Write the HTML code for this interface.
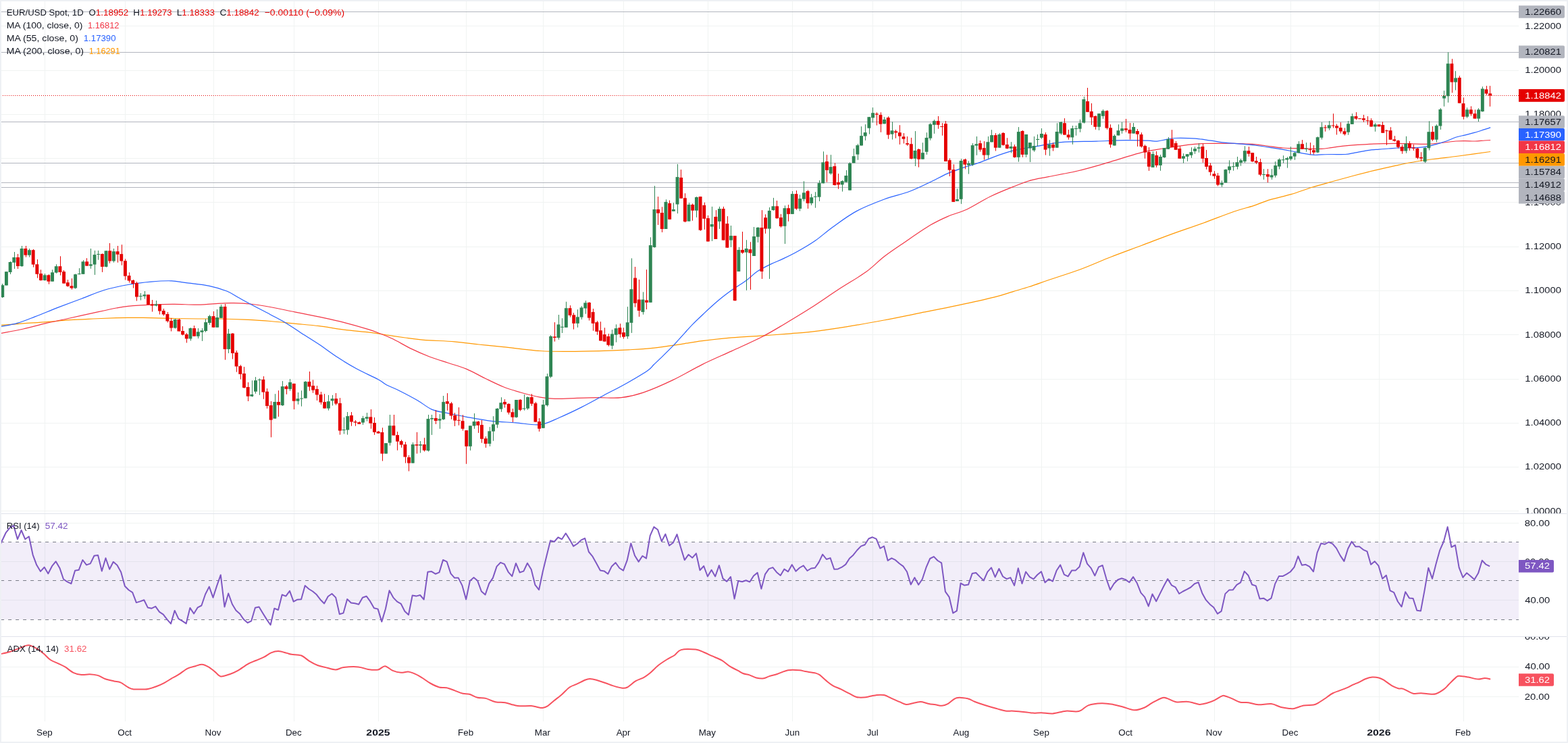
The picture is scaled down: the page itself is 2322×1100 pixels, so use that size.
<!DOCTYPE html>
<html><head><meta charset="utf-8"><title>EUR/USD Spot, 1D</title>
<style>html,body{margin:0;padding:0;background:#fff;}body{width:2322px;height:1100px;overflow:hidden;}svg{display:block;}</style>
</head><body>
<svg width="2322" height="1100" viewBox="0 0 2322 1100">
<defs><clipPath id="cm"><rect x="2" y="2" width="2247" height="758"/></clipPath><clipPath id="cr"><rect x="2" y="761" width="2247" height="181"/></clipPath><clipPath id="ca"><rect x="2" y="943" width="2247" height="125"/></clipPath><clipPath id="axm"><rect x="2249" y="2" width="71" height="758"/></clipPath><clipPath id="axr"><rect x="2249" y="761" width="71" height="181"/></clipPath><clipPath id="axa"><rect x="2249" y="943" width="71" height="125"/></clipPath></defs>
<rect x="0" y="0" width="2322" height="1100" fill="#eef0f4"/>
<rect x="2" y="2" width="2318" height="1096" fill="#ffffff"/>
<g stroke="#f0f3f2" stroke-width="1"><line x1="2" x2="2249" y1="38.5" y2="38.5"/><line x1="2" x2="2249" y1="104.5" y2="104.5"/><line x1="2" x2="2249" y1="169.5" y2="169.5"/><line x1="2" x2="2249" y1="234.5" y2="234.5"/><line x1="2" x2="2249" y1="299.5" y2="299.5"/><line x1="2" x2="2249" y1="365.5" y2="365.5"/><line x1="2" x2="2249" y1="430.5" y2="430.5"/><line x1="2" x2="2249" y1="495.5" y2="495.5"/><line x1="2" x2="2249" y1="561.5" y2="561.5"/><line x1="2" x2="2249" y1="626.5" y2="626.5"/><line x1="2" x2="2249" y1="691.5" y2="691.5"/><line x1="2" x2="2249" y1="756.5" y2="756.5"/><line x1="2" x2="2249" y1="774.5" y2="774.5"/><line x1="2" x2="2249" y1="831.5" y2="831.5"/><line x1="2" x2="2249" y1="888.5" y2="888.5"/><line x1="2" x2="2249" y1="987.5" y2="987.5"/><line x1="2" x2="2249" y1="1031.5" y2="1031.5"/><line x1="66.5" x2="66.5" y1="2" y2="1068"/><line x1="185.5" x2="185.5" y1="2" y2="1068"/><line x1="316.5" x2="316.5" y1="2" y2="1068"/><line x1="435.5" x2="435.5" y1="2" y2="1068"/><line x1="560.5" x2="560.5" y1="2" y2="1068"/><line x1="690.5" x2="690.5" y1="2" y2="1068"/><line x1="804.5" x2="804.5" y1="2" y2="1068"/><line x1="923.5" x2="923.5" y1="2" y2="1068"/><line x1="1048.5" x2="1048.5" y1="2" y2="1068"/><line x1="1173.5" x2="1173.5" y1="2" y2="1068"/><line x1="1292.5" x2="1292.5" y1="2" y2="1068"/><line x1="1423.5" x2="1423.5" y1="2" y2="1068"/><line x1="1542.5" x2="1542.5" y1="2" y2="1068"/><line x1="1667.5" x2="1667.5" y1="2" y2="1068"/><line x1="1798.5" x2="1798.5" y1="2" y2="1068"/><line x1="1911.5" x2="1911.5" y1="2" y2="1068"/><line x1="2042.5" x2="2042.5" y1="2" y2="1068"/><line x1="2167.5" x2="2167.5" y1="2" y2="1068"/></g>
<g stroke="#e0e3eb" stroke-width="1.2"><line x1="2" x2="2320" y1="760.5" y2="760.5"/><line x1="2" x2="2320" y1="942.5" y2="942.5"/></g>
<g clip-path="url(#cm)">
<line x1="2" x2="2249" y1="17.5" y2="17.5" stroke="#b2b5be" stroke-width="1"/>
<line x1="2" x2="2249" y1="77.5" y2="77.5" stroke="#b2b5be" stroke-width="1"/>
<line x1="2" x2="2249" y1="180.5" y2="180.5" stroke="#b2b5be" stroke-width="1"/>
<line x1="2" x2="2249" y1="241.5" y2="241.5" stroke="#b2b5be" stroke-width="1"/>
<line x1="2" x2="2249" y1="270.5" y2="270.5" stroke="#b2b5be" stroke-width="1"/>
<line x1="2" x2="2249" y1="277.5" y2="277.5" stroke="#b2b5be" stroke-width="1"/>
<line x1="2" x2="2249" y1="141.5" y2="141.5" stroke="#e50000" stroke-width="1" stroke-dasharray="1,2" stroke-dashoffset="1"/>
<path d="M1.7,481.5 C7.2,481.1 23.3,479.7 34.5,478.9 C45.7,478.1 57.4,477.6 68.9,476.7 C80.4,475.8 91.9,474.5 103.4,473.7 C114.9,472.9 126.3,472.5 137.8,472.0 C149.3,471.5 163.7,470.9 172.3,470.6 C180.9,470.3 180.9,470.3 189.5,470.3 C198.1,470.3 212.5,470.4 224.0,470.6 C235.5,470.8 246.9,471.3 258.4,471.5 C269.9,471.7 281.4,471.9 292.9,472.0 C304.4,472.1 315.8,471.8 327.3,472.0 C338.8,472.2 349.7,472.6 361.8,473.2 C373.9,473.8 387.6,474.5 400.0,475.5 C412.4,476.5 424.3,477.9 436.4,479.1 C448.5,480.3 460.6,481.2 472.7,482.7 C484.8,484.2 497.0,486.7 509.1,488.2 C521.2,489.7 536.4,490.8 545.5,491.8 C554.6,492.9 554.5,493.1 563.6,494.5 C572.7,495.9 589.4,498.5 600.0,500.0 C610.6,501.5 615.2,502.3 627.3,503.3 C639.4,504.3 659.1,504.7 672.7,505.8 C686.3,506.9 697.0,508.7 709.1,510.0 C721.2,511.3 730.4,512.0 745.5,513.6 C760.6,515.2 783.6,518.4 800.0,519.5 C816.4,520.6 829.1,520.4 843.6,520.4 C858.1,520.4 872.8,520.0 887.3,519.6 C901.8,519.2 918.2,518.5 930.9,517.8 C943.6,517.1 952.7,516.7 963.6,515.6 C974.5,514.5 983.7,513.1 996.4,511.3 C1009.1,509.5 1025.5,506.6 1040.0,504.7 C1054.5,502.8 1069.2,501.2 1083.7,499.9 C1098.2,498.6 1112.8,498.1 1127.3,497.1 C1141.8,496.1 1158.8,494.8 1170.9,493.8 C1183.0,492.9 1186.1,493.1 1200.0,491.4 C1213.9,489.7 1236.3,486.5 1254.5,483.6 C1272.7,480.7 1290.9,477.4 1309.1,474.0 C1327.3,470.6 1345.4,466.7 1363.6,463.1 C1381.8,459.5 1399.9,456.1 1418.1,452.2 C1436.3,448.3 1459.1,443.3 1472.7,439.9 C1486.3,436.5 1490.8,434.5 1499.9,431.8 C1509.0,429.1 1518.1,426.6 1527.2,423.6 C1536.3,420.6 1542.4,418.1 1554.5,414.0 C1566.6,409.9 1584.8,404.3 1600.0,398.7 C1615.2,393.1 1630.3,386.1 1645.5,380.2 C1660.7,374.3 1675.8,368.9 1690.9,363.2 C1706.1,357.5 1721.2,351.6 1736.4,346.1 C1751.6,340.6 1766.7,335.7 1781.8,330.2 C1796.9,324.7 1814.9,317.5 1827.3,313.2 C1839.7,308.9 1847.2,307.5 1856.2,304.6 C1865.2,301.7 1871.7,298.4 1881.0,295.6 C1890.3,292.8 1901.7,290.7 1912.0,287.6 C1922.3,284.6 1932.7,280.5 1943.0,277.3 C1953.3,274.1 1963.7,271.4 1974.0,268.5 C1984.3,265.6 1994.7,262.7 2005.0,260.0 C2015.3,257.3 2025.7,254.7 2036.0,252.2 C2046.3,249.7 2056.7,247.4 2067.0,245.2 C2077.3,243.0 2087.7,240.7 2098.0,239.0 C2108.3,237.3 2118.7,236.1 2129.0,234.8 C2139.3,233.5 2147.0,232.7 2160.0,231.0 C2173.0,229.3 2199.3,225.6 2207.2,224.5" fill="none" stroke="#ff9800" stroke-width="1.2" stroke-linejoin="round"/>
<path d="M1.7,493.5 C7.2,492.4 23.3,489.5 34.5,487.0 C45.7,484.5 57.4,481.1 68.9,478.4 C80.4,475.7 91.9,473.5 103.4,471.0 C114.9,468.5 126.3,465.9 137.8,463.4 C149.3,460.9 163.7,457.7 172.3,456.0 C180.9,454.3 180.9,454.2 189.5,453.4 C198.1,452.6 212.5,451.7 224.0,451.2 C235.5,450.7 246.9,450.3 258.4,450.3 C269.9,450.3 281.4,451.4 292.9,451.2 C304.4,451.0 318.7,449.5 327.3,449.1 C335.9,448.7 337.3,448.5 344.5,448.6 C351.7,448.8 361.1,449.0 370.4,450.0 C379.6,451.0 389.0,452.5 400.0,454.5 C411.0,456.5 424.3,459.4 436.4,461.8 C448.5,464.2 460.6,466.5 472.7,469.1 C484.8,471.7 497.0,474.2 509.1,477.3 C521.2,480.4 537.0,485.0 545.5,487.6 C554.0,490.2 554.0,490.3 560.0,492.7 C566.0,495.1 573.6,497.9 581.8,501.8 C590.0,505.8 600.0,512.0 609.1,516.4 C618.2,520.8 627.3,524.7 636.4,528.2 C645.5,531.7 654.5,534.3 663.6,537.3 C672.7,540.3 681.8,542.6 690.9,546.4 C700.0,550.2 709.1,555.6 718.2,560.0 C727.3,564.4 736.4,569.1 745.5,572.7 C754.6,576.3 763.6,578.9 772.7,581.5 C781.8,584.1 791.8,586.7 800.0,588.2 C808.2,589.7 812.7,590.1 821.8,590.3 C830.9,590.5 843.6,589.7 854.5,589.4 C865.4,589.1 876.4,588.8 887.3,588.7 C898.2,588.6 909.1,590.0 920.0,588.7 C930.9,587.4 940.0,585.5 952.7,581.1 C965.4,576.8 981.9,569.5 996.4,562.6 C1010.9,555.7 1025.5,546.8 1040.0,539.6 C1054.5,532.4 1069.2,526.3 1083.7,519.6 C1098.2,512.9 1114.6,505.8 1127.3,499.3 C1140.0,492.8 1147.9,487.9 1160.0,480.7 C1172.1,473.5 1186.5,464.9 1200.0,456.3 C1213.5,447.7 1227.3,437.9 1240.9,429.0 C1254.5,420.1 1270.4,411.3 1281.8,403.1 C1293.2,394.9 1300.0,387.0 1309.1,380.0 C1318.2,373.0 1324.9,368.6 1336.3,360.9 C1347.7,353.2 1365.8,340.4 1377.2,333.6 C1388.6,326.8 1395.4,323.9 1404.5,320.0 C1413.6,316.1 1421.5,314.8 1431.8,310.0 C1442.1,305.2 1454.9,296.6 1466.4,291.0 C1477.9,285.4 1490.8,280.3 1500.9,276.3 C1511.0,272.3 1518.2,269.2 1526.8,266.8 C1535.4,264.4 1541.2,263.9 1552.7,261.6 C1564.2,259.3 1581.4,256.4 1595.9,253.0 C1610.5,249.6 1624.2,245.5 1640.0,240.9 C1655.8,236.3 1676.7,229.3 1690.9,225.7 C1705.1,222.1 1713.6,221.4 1725.0,219.5 C1736.4,217.6 1749.6,215.5 1759.1,214.3 C1768.6,213.1 1774.2,212.8 1781.8,212.5 C1789.4,212.2 1796.9,212.3 1804.5,212.3 C1812.1,212.3 1819.7,212.2 1827.3,212.3 C1834.9,212.5 1842.4,212.7 1850.0,213.2 C1857.6,213.7 1864.4,214.5 1872.7,215.5 C1881.0,216.5 1890.7,218.3 1900.0,219.0 C1909.3,219.7 1918.9,219.5 1928.4,219.7 C1937.9,219.9 1949.8,220.6 1956.9,220.4 C1964.0,220.2 1966.4,219.2 1971.1,218.6 C1975.8,218.0 1979.4,217.2 1985.3,216.6 C1991.2,215.9 1999.5,215.2 2006.6,214.7 C2013.7,214.1 2020.8,213.7 2027.9,213.3 C2035.0,213.0 2042.1,212.8 2049.2,212.6 C2056.3,212.4 2063.5,212.2 2070.6,212.3 C2077.7,212.4 2084.8,212.7 2091.9,212.9 C2099.0,213.1 2106.1,213.5 2113.2,213.3 C2120.3,213.1 2127.4,212.2 2134.5,211.5 C2141.6,210.8 2149.9,209.5 2155.8,209.0 C2161.7,208.5 2165.3,208.6 2170.0,208.6 C2174.7,208.6 2179.4,209.1 2184.2,209.0 C2188.9,208.9 2194.7,208.2 2198.5,208.0 C2202.3,207.8 2205.8,207.6 2207.2,207.5" fill="none" stroke="#f23645" stroke-width="1.2" stroke-linejoin="round"/>
<path d="M1.7,483.5 C5.7,482.6 17.5,480.8 25.8,478.4 C34.1,476.0 41.7,472.8 51.7,468.9 C61.8,465.0 74.6,459.6 86.1,455.1 C97.6,450.7 109.1,446.5 120.6,442.2 C132.1,437.9 143.5,432.8 155.0,429.3 C166.5,425.9 178.0,423.5 189.5,421.5 C201.0,419.5 213.4,418.1 224.0,417.2 C234.6,416.2 244.6,415.6 253.2,415.8 C261.8,416.0 266.1,417.4 275.6,418.6 C285.1,419.9 299.9,421.2 310.0,423.3 C320.1,425.4 328.7,428.1 335.9,431.0 C343.1,433.9 347.4,437.3 353.1,440.5 C358.9,443.7 362.6,445.8 370.4,450.0 C378.2,454.2 391.4,460.9 400.0,465.5 C408.6,470.1 414.2,472.8 421.8,477.3 C429.4,481.8 437.0,487.2 445.5,492.7 C454.0,498.1 463.6,503.9 472.7,510.0 C481.8,516.1 490.9,523.2 500.0,529.1 C509.1,535.0 517.3,540.0 527.3,545.5 C537.3,551.0 552.4,557.7 560.0,561.8 C567.6,565.9 567.6,567.3 572.7,570.0 C577.9,572.7 583.3,574.4 590.9,578.2 C598.5,582.0 610.0,588.0 618.2,592.7 C626.4,597.4 632.4,603.2 640.0,606.4 C647.6,609.6 655.1,610.0 663.6,611.8 C672.1,613.6 680.3,615.4 690.9,617.3 C701.5,619.2 715.2,621.9 727.3,623.3 C739.4,624.7 751.5,624.9 763.6,625.8 C775.7,626.7 789.2,629.9 800.0,628.6 C810.8,627.3 818.2,622.5 828.4,618.2 C838.6,613.9 850.2,608.4 861.1,602.9 C872.0,597.4 882.5,591.5 893.8,585.5 C905.1,579.5 917.8,573.1 928.7,566.9 C939.6,560.7 952.8,552.9 959.3,548.4 C965.8,543.9 964.2,543.6 968.0,540.0 C971.8,536.4 976.8,531.8 981.8,526.9 C986.8,522.0 992.9,516.0 997.8,510.9 C1002.6,505.8 1006.3,501.5 1010.9,496.4 C1015.5,491.3 1020.2,485.9 1025.5,480.4 C1030.8,474.9 1036.4,469.7 1042.9,463.6 C1049.4,457.5 1057.9,449.7 1064.7,444.0 C1071.5,438.3 1076.8,434.4 1083.6,429.5 C1090.4,424.6 1099.2,419.5 1105.5,414.9 C1111.8,410.3 1115.5,405.8 1121.5,401.8 C1127.5,397.8 1135.4,394.0 1141.8,390.9 C1148.2,387.8 1153.4,386.0 1160.0,382.9 C1166.6,379.8 1173.5,376.5 1181.5,372.0 C1189.5,367.5 1199.0,362.1 1207.7,356.0 C1216.4,349.9 1223.6,343.0 1233.8,335.7 C1244.0,328.4 1256.2,319.2 1268.8,312.4 C1281.4,305.6 1296.4,299.9 1309.5,295.0 C1322.6,290.1 1335.7,287.7 1347.3,283.3 C1358.9,278.9 1370.1,273.2 1379.3,268.8 C1388.5,264.4 1394.8,260.5 1402.6,257.1 C1410.4,253.7 1418.2,251.1 1425.9,248.4 C1433.7,245.7 1437.9,245.0 1449.1,241.1 C1460.2,237.2 1478.2,229.2 1492.8,225.1 C1507.3,221.0 1523.3,218.8 1536.4,216.4 C1549.5,214.0 1556.8,211.8 1571.3,210.6 C1585.8,209.4 1607.7,209.6 1623.7,209.1 C1639.7,208.6 1654.7,207.8 1667.4,207.7 C1680.1,207.5 1692.3,208.0 1700.0,208.2 C1707.7,208.4 1709.0,209.4 1713.6,209.1 C1718.1,208.8 1722.8,207.2 1727.3,206.4 C1731.8,205.6 1733.7,204.7 1740.9,204.5 C1748.1,204.3 1761.8,204.6 1770.5,205.2 C1779.2,205.8 1785.6,207.2 1793.2,208.2 C1800.8,209.2 1808.3,210.6 1815.9,211.4 C1823.5,212.2 1831.0,212.5 1838.6,213.2 C1846.2,213.9 1853.8,214.6 1861.4,215.5 C1869.0,216.4 1877.7,217.9 1884.1,218.9 C1890.5,219.9 1895.0,220.5 1900.0,221.3 C1905.0,222.2 1909.5,223.1 1914.2,224.0 C1918.9,224.9 1923.2,225.9 1928.4,226.8 C1933.6,227.7 1940.8,229.1 1945.5,229.4 C1950.2,229.8 1952.6,229.1 1956.9,228.9 C1961.2,228.8 1965.2,228.6 1971.1,228.5 C1977.0,228.4 1986.5,228.9 1992.4,228.5 C1998.3,228.1 2000.7,227.1 2006.6,226.1 C2012.5,225.1 2022.0,223.1 2027.9,222.3 C2033.8,221.5 2037.4,221.5 2042.1,221.1 C2046.8,220.7 2051.6,220.3 2056.3,220.0 C2061.1,219.7 2065.8,219.2 2070.6,219.0 C2075.3,218.8 2080.1,218.7 2084.8,218.6 C2089.5,218.5 2094.3,218.9 2099.0,218.6 C2103.7,218.3 2108.5,217.8 2113.2,216.9 C2117.9,216.0 2122.7,214.6 2127.4,213.3 C2132.1,212.0 2136.9,210.7 2141.6,209.0 C2146.3,207.3 2151.1,204.8 2155.8,203.3 C2160.5,201.8 2165.3,201.0 2170.0,199.8 C2174.7,198.6 2179.4,197.6 2184.2,196.2 C2188.9,194.8 2194.7,192.8 2198.5,191.6 C2202.3,190.4 2205.8,189.3 2207.2,188.9" fill="none" stroke="#2962ff" stroke-width="1.2" stroke-linejoin="round"/>
<rect x="1.30" y="422.20" width="4.9" height="17.80" fill="#2e8553"/>
<rect x="3" y="420.00" width="1" height="21.00" fill="#2e8553"/>
<rect x="6.97" y="402.20" width="4.9" height="20.30" fill="#2e8553"/>
<rect x="9" y="402.00" width="1" height="20.50" fill="#2e8553"/>
<rect x="12.65" y="388.00" width="4.9" height="15.00" fill="#2e8553"/>
<rect x="15" y="387.00" width="1" height="19.00" fill="#2e8553"/>
<rect x="18.33" y="381.00" width="4.9" height="7.70" fill="#2e8553"/>
<rect x="21" y="373.00" width="1" height="25.00" fill="#2e8553"/>
<rect x="24.01" y="381.00" width="4.9" height="13.00" fill="#e50000"/>
<rect x="26" y="376.00" width="1" height="22.00" fill="#e50000"/>
<rect x="29.68" y="368.00" width="4.9" height="26.00" fill="#2e8553"/>
<rect x="32" y="364.00" width="1" height="31.00" fill="#2e8553"/>
<rect x="35.36" y="368.00" width="4.9" height="9.70" fill="#e50000"/>
<rect x="38" y="364.00" width="1" height="16.70" fill="#e50000"/>
<rect x="41.04" y="370.20" width="4.9" height="7.50" fill="#2e8553"/>
<rect x="43" y="368.00" width="1" height="12.70" fill="#2e8553"/>
<rect x="46.72" y="370.20" width="4.9" height="21.40" fill="#e50000"/>
<rect x="49" y="369.00" width="1" height="26.60" fill="#e50000"/>
<rect x="52.39" y="391.30" width="4.9" height="14.50" fill="#e50000"/>
<rect x="55" y="384.00" width="1" height="27.60" fill="#e50000"/>
<rect x="58.07" y="405.10" width="4.9" height="9.90" fill="#e50000"/>
<rect x="60" y="399.30" width="1" height="16.30" fill="#e50000"/>
<rect x="63.75" y="407.30" width="4.9" height="7.70" fill="#2e8553"/>
<rect x="66" y="405.00" width="1" height="10.60" fill="#2e8553"/>
<rect x="69.43" y="407.30" width="4.9" height="9.40" fill="#e50000"/>
<rect x="72" y="406.20" width="1" height="14.50" fill="#e50000"/>
<rect x="75.11" y="403.30" width="4.9" height="13.40" fill="#2e8553"/>
<rect x="77" y="399.30" width="1" height="17.40" fill="#2e8553"/>
<rect x="80.78" y="394.20" width="4.9" height="9.40" fill="#2e8553"/>
<rect x="83" y="391.30" width="1" height="13.40" fill="#2e8553"/>
<rect x="86.46" y="394.20" width="4.9" height="8.80" fill="#e50000"/>
<rect x="89" y="379.30" width="1" height="28.30" fill="#e50000"/>
<rect x="92.14" y="402.20" width="4.9" height="17.40" fill="#e50000"/>
<rect x="94" y="400.00" width="1" height="19.60" fill="#e50000"/>
<rect x="97.82" y="418.20" width="4.9" height="5.40" fill="#e50000"/>
<rect x="100" y="414.20" width="1" height="10.50" fill="#e50000"/>
<rect x="103.49" y="423.30" width="4.9" height="3.20" fill="#e50000"/>
<rect x="106" y="412.20" width="1" height="16.50" fill="#e50000"/>
<rect x="109.17" y="406.20" width="4.9" height="20.30" fill="#2e8553"/>
<rect x="111" y="405.50" width="1" height="22.10" fill="#2e8553"/>
<rect x="114.85" y="405.10" width="4.9" height="1.00" fill="#2e8553"/>
<rect x="117" y="397.10" width="1" height="9.40" fill="#2e8553"/>
<rect x="120.53" y="387.30" width="4.9" height="18.50" fill="#2e8553"/>
<rect x="123" y="385.10" width="1" height="20.70" fill="#2e8553"/>
<rect x="126.20" y="387.30" width="4.9" height="6.30" fill="#e50000"/>
<rect x="128" y="382.20" width="1" height="11.40" fill="#e50000"/>
<rect x="131.88" y="391.30" width="4.9" height="2.30" fill="#2e8553"/>
<rect x="134" y="368.00" width="1" height="29.80" fill="#2e8553"/>
<rect x="137.56" y="377.10" width="4.9" height="14.50" fill="#2e8553"/>
<rect x="140" y="370.90" width="1" height="36.00" fill="#2e8553"/>
<rect x="143.24" y="376.00" width="4.9" height="1.00" fill="#2e8553"/>
<rect x="145" y="370.90" width="1" height="13.80" fill="#2e8553"/>
<rect x="148.92" y="376.00" width="4.9" height="18.90" fill="#e50000"/>
<rect x="151" y="375.30" width="1" height="27.60" fill="#e50000"/>
<rect x="154.59" y="371.30" width="4.9" height="23.60" fill="#2e8553"/>
<rect x="157" y="371.30" width="1" height="24.30" fill="#2e8553"/>
<rect x="160.27" y="371.30" width="4.9" height="15.20" fill="#e50000"/>
<rect x="162" y="360.00" width="1" height="29.80" fill="#e50000"/>
<rect x="165.95" y="372.20" width="4.9" height="14.30" fill="#2e8553"/>
<rect x="168" y="368.00" width="1" height="20.70" fill="#2e8553"/>
<rect x="171.63" y="372.20" width="4.9" height="4.50" fill="#e50000"/>
<rect x="174" y="364.00" width="1" height="24.70" fill="#e50000"/>
<rect x="177.30" y="376.10" width="4.9" height="10.40" fill="#e50000"/>
<rect x="180" y="362.20" width="1" height="30.50" fill="#e50000"/>
<rect x="182.98" y="386.20" width="4.9" height="22.50" fill="#e50000"/>
<rect x="185" y="383.30" width="1" height="31.20" fill="#e50000"/>
<rect x="188.66" y="408.10" width="4.9" height="7.50" fill="#e50000"/>
<rect x="191" y="403.30" width="1" height="15.20" fill="#e50000"/>
<rect x="194.34" y="415.00" width="4.9" height="5.00" fill="#e50000"/>
<rect x="197" y="414.00" width="1" height="12.50" fill="#e50000"/>
<rect x="200.01" y="419.00" width="4.9" height="20.50" fill="#e50000"/>
<rect x="202" y="417.00" width="1" height="28.50" fill="#e50000"/>
<rect x="205.69" y="438.00" width="4.9" height="1.00" fill="#2e8553"/>
<rect x="208" y="434.00" width="1" height="10.50" fill="#2e8553"/>
<rect x="211.37" y="436.20" width="4.9" height="2.30" fill="#2e8553"/>
<rect x="214" y="431.00" width="1" height="11.50" fill="#2e8553"/>
<rect x="217.05" y="436.20" width="4.9" height="14.80" fill="#e50000"/>
<rect x="219" y="436.20" width="1" height="14.80" fill="#e50000"/>
<rect x="222.73" y="450.50" width="4.9" height="2.00" fill="#e50000"/>
<rect x="225" y="444.00" width="1" height="17.50" fill="#e50000"/>
<rect x="228.40" y="450.50" width="4.9" height="2.00" fill="#2e8553"/>
<rect x="231" y="445.00" width="1" height="8.50" fill="#2e8553"/>
<rect x="234.08" y="450.50" width="4.9" height="10.00" fill="#e50000"/>
<rect x="236" y="450.50" width="1" height="15.00" fill="#e50000"/>
<rect x="239.76" y="460.00" width="4.9" height="5.50" fill="#e50000"/>
<rect x="242" y="457.00" width="1" height="10.50" fill="#e50000"/>
<rect x="245.44" y="465.00" width="4.9" height="10.50" fill="#e50000"/>
<rect x="248" y="462.00" width="1" height="15.50" fill="#e50000"/>
<rect x="251.11" y="475.00" width="4.9" height="10.50" fill="#e50000"/>
<rect x="253" y="471.00" width="1" height="19.50" fill="#e50000"/>
<rect x="256.79" y="473.00" width="4.9" height="12.50" fill="#2e8553"/>
<rect x="259" y="472.00" width="1" height="14.50" fill="#2e8553"/>
<rect x="262.47" y="473.00" width="4.9" height="17.50" fill="#e50000"/>
<rect x="265" y="472.00" width="1" height="18.50" fill="#e50000"/>
<rect x="268.15" y="490.00" width="4.9" height="5.50" fill="#e50000"/>
<rect x="270" y="483.00" width="1" height="13.50" fill="#e50000"/>
<rect x="273.82" y="495.00" width="4.9" height="6.50" fill="#e50000"/>
<rect x="276" y="493.00" width="1" height="14.50" fill="#e50000"/>
<rect x="279.50" y="486.00" width="4.9" height="15.50" fill="#2e8553"/>
<rect x="282" y="485.00" width="1" height="19.50" fill="#2e8553"/>
<rect x="285.18" y="486.00" width="4.9" height="11.80" fill="#e50000"/>
<rect x="287" y="482.00" width="1" height="15.80" fill="#e50000"/>
<rect x="290.86" y="491.30" width="4.9" height="6.50" fill="#2e8553"/>
<rect x="293" y="486.00" width="1" height="15.10" fill="#2e8553"/>
<rect x="296.54" y="489.30" width="4.9" height="2.50" fill="#2e8553"/>
<rect x="299" y="486.00" width="1" height="18.90" fill="#2e8553"/>
<rect x="302.21" y="477.10" width="4.9" height="12.90" fill="#2e8553"/>
<rect x="304" y="472.20" width="1" height="19.60" fill="#2e8553"/>
<rect x="307.89" y="468.10" width="4.9" height="9.90" fill="#2e8553"/>
<rect x="310" y="466.20" width="1" height="14.70" fill="#2e8553"/>
<rect x="313.57" y="468.10" width="4.9" height="16.60" fill="#e50000"/>
<rect x="316" y="460.90" width="1" height="23.80" fill="#e50000"/>
<rect x="319.25" y="470.00" width="4.9" height="14.70" fill="#2e8553"/>
<rect x="321" y="458.00" width="1" height="26.70" fill="#2e8553"/>
<rect x="324.92" y="454.00" width="4.9" height="16.80" fill="#2e8553"/>
<rect x="327" y="450.90" width="1" height="19.90" fill="#2e8553"/>
<rect x="330.60" y="454.00" width="4.9" height="62.90" fill="#e50000"/>
<rect x="333" y="450.00" width="1" height="82.70" fill="#e50000"/>
<rect x="336.28" y="494.00" width="4.9" height="22.90" fill="#2e8553"/>
<rect x="338" y="486.90" width="1" height="36.00" fill="#2e8553"/>
<rect x="341.96" y="493.70" width="4.9" height="29.20" fill="#e50000"/>
<rect x="344" y="493.20" width="1" height="38.40" fill="#e50000"/>
<rect x="347.63" y="522.00" width="4.9" height="20.50" fill="#e50000"/>
<rect x="350" y="519.00" width="1" height="31.70" fill="#e50000"/>
<rect x="353.31" y="542.10" width="4.9" height="11.80" fill="#e50000"/>
<rect x="356" y="540.20" width="1" height="21.30" fill="#e50000"/>
<rect x="358.99" y="553.00" width="4.9" height="20.90" fill="#e50000"/>
<rect x="361" y="543.10" width="1" height="31.80" fill="#e50000"/>
<rect x="364.67" y="573.00" width="4.9" height="13.70" fill="#e50000"/>
<rect x="367" y="566.00" width="1" height="28.00" fill="#e50000"/>
<rect x="370.35" y="584.00" width="4.9" height="2.70" fill="#2e8553"/>
<rect x="373" y="563.20" width="1" height="24.40" fill="#2e8553"/>
<rect x="376.02" y="563.20" width="4.9" height="16.50" fill="#2e8553"/>
<rect x="378" y="558.10" width="1" height="24.70" fill="#2e8553"/>
<rect x="381.70" y="561.90" width="4.9" height="1.00" fill="#2e8553"/>
<rect x="384" y="560.30" width="1" height="24.50" fill="#2e8553"/>
<rect x="387.38" y="561.90" width="4.9" height="18.70" fill="#e50000"/>
<rect x="390" y="557.10" width="1" height="33.70" fill="#e50000"/>
<rect x="393.06" y="579.70" width="4.9" height="21.30" fill="#e50000"/>
<rect x="395" y="575.10" width="1" height="29.70" fill="#e50000"/>
<rect x="398.73" y="600.10" width="4.9" height="21.60" fill="#e50000"/>
<rect x="401" y="594.00" width="1" height="53.40" fill="#e50000"/>
<rect x="404.41" y="595.00" width="4.9" height="24.70" fill="#2e8553"/>
<rect x="407" y="583.20" width="1" height="36.50" fill="#2e8553"/>
<rect x="410.09" y="595.00" width="4.9" height="4.70" fill="#e50000"/>
<rect x="412" y="578.10" width="1" height="38.80" fill="#e50000"/>
<rect x="415.77" y="572.10" width="4.9" height="28.00" fill="#2e8553"/>
<rect x="418" y="564.10" width="1" height="36.90" fill="#2e8553"/>
<rect x="421.45" y="572.10" width="4.9" height="3.80" fill="#e50000"/>
<rect x="424" y="570.00" width="1" height="13.80" fill="#e50000"/>
<rect x="427.12" y="566.00" width="4.9" height="9.90" fill="#2e8553"/>
<rect x="429" y="561.10" width="1" height="17.60" fill="#2e8553"/>
<rect x="432.80" y="567.90" width="4.9" height="25.80" fill="#e50000"/>
<rect x="435" y="567.90" width="1" height="38.20" fill="#e50000"/>
<rect x="438.48" y="590.20" width="4.9" height="3.50" fill="#2e8553"/>
<rect x="441" y="581.00" width="1" height="17.80" fill="#2e8553"/>
<rect x="444.16" y="589.60" width="4.9" height="1.00" fill="#2e8553"/>
<rect x="446" y="578.20" width="1" height="23.40" fill="#2e8553"/>
<rect x="449.83" y="565.10" width="4.9" height="24.50" fill="#2e8553"/>
<rect x="452" y="564.20" width="1" height="25.40" fill="#2e8553"/>
<rect x="455.51" y="565.10" width="4.9" height="7.40" fill="#e50000"/>
<rect x="458" y="550.00" width="1" height="28.70" fill="#e50000"/>
<rect x="461.19" y="571.10" width="4.9" height="6.50" fill="#e50000"/>
<rect x="463" y="562.40" width="1" height="19.30" fill="#e50000"/>
<rect x="466.87" y="576.00" width="4.9" height="8.50" fill="#e50000"/>
<rect x="469" y="571.10" width="1" height="21.80" fill="#e50000"/>
<rect x="472.54" y="584.20" width="4.9" height="11.40" fill="#e50000"/>
<rect x="475" y="580.10" width="1" height="18.80" fill="#e50000"/>
<rect x="478.22" y="595.10" width="4.9" height="9.50" fill="#e50000"/>
<rect x="480" y="583.10" width="1" height="21.50" fill="#e50000"/>
<rect x="483.90" y="594.20" width="4.9" height="10.40" fill="#2e8553"/>
<rect x="486" y="584.90" width="1" height="22.70" fill="#2e8553"/>
<rect x="489.58" y="590.20" width="4.9" height="3.20" fill="#2e8553"/>
<rect x="492" y="584.90" width="1" height="15.60" fill="#2e8553"/>
<rect x="495.26" y="590.20" width="4.9" height="7.40" fill="#e50000"/>
<rect x="497" y="582.00" width="1" height="17.80" fill="#e50000"/>
<rect x="500.93" y="596.90" width="4.9" height="40.70" fill="#e50000"/>
<rect x="503" y="589.10" width="1" height="54.50" fill="#e50000"/>
<rect x="506.61" y="636.00" width="4.9" height="1.00" fill="#2e8553"/>
<rect x="509" y="618.00" width="1" height="24.50" fill="#2e8553"/>
<rect x="512.29" y="616.10" width="4.9" height="20.40" fill="#2e8553"/>
<rect x="514" y="610.00" width="1" height="33.60" fill="#2e8553"/>
<rect x="517.97" y="615.00" width="4.9" height="9.50" fill="#e50000"/>
<rect x="520" y="610.00" width="1" height="20.70" fill="#e50000"/>
<rect x="523.64" y="624.20" width="4.9" height="1.40" fill="#e50000"/>
<rect x="526" y="622.00" width="1" height="8.70" fill="#e50000"/>
<rect x="529.32" y="625.10" width="4.9" height="2.70" fill="#e50000"/>
<rect x="532" y="624.20" width="1" height="3.60" fill="#e50000"/>
<rect x="535.00" y="619.10" width="4.9" height="6.50" fill="#2e8553"/>
<rect x="537" y="615.80" width="1" height="13.10" fill="#2e8553"/>
<rect x="540.68" y="617.30" width="4.9" height="2.50" fill="#2e8553"/>
<rect x="543" y="611.10" width="1" height="12.50" fill="#2e8553"/>
<rect x="546.35" y="617.30" width="4.9" height="9.40" fill="#e50000"/>
<rect x="549" y="606.00" width="1" height="28.70" fill="#e50000"/>
<rect x="552.03" y="626.00" width="4.9" height="13.80" fill="#e50000"/>
<rect x="554" y="618.00" width="1" height="25.80" fill="#e50000"/>
<rect x="557.71" y="638.90" width="4.9" height="2.70" fill="#e50000"/>
<rect x="560" y="638.00" width="1" height="3.60" fill="#e50000"/>
<rect x="563.39" y="640.00" width="4.9" height="31.60" fill="#e50000"/>
<rect x="566" y="633.20" width="1" height="49.30" fill="#e50000"/>
<rect x="569.07" y="656.10" width="4.9" height="15.50" fill="#2e8553"/>
<rect x="571" y="656.10" width="1" height="15.50" fill="#2e8553"/>
<rect x="574.74" y="630.20" width="4.9" height="25.40" fill="#2e8553"/>
<rect x="577" y="614.00" width="1" height="45.60" fill="#2e8553"/>
<rect x="580.42" y="630.20" width="4.9" height="14.40" fill="#e50000"/>
<rect x="583" y="614.00" width="1" height="30.60" fill="#e50000"/>
<rect x="586.10" y="644.10" width="4.9" height="9.50" fill="#e50000"/>
<rect x="588" y="639.10" width="1" height="27.60" fill="#e50000"/>
<rect x="591.78" y="653.10" width="4.9" height="5.40" fill="#e50000"/>
<rect x="594" y="651.10" width="1" height="11.60" fill="#e50000"/>
<rect x="597.45" y="658.00" width="4.9" height="18.50" fill="#e50000"/>
<rect x="600" y="654.20" width="1" height="31.40" fill="#e50000"/>
<rect x="603.13" y="677.10" width="4.9" height="8.50" fill="#e50000"/>
<rect x="605" y="674.00" width="1" height="23.60" fill="#e50000"/>
<rect x="608.81" y="658.00" width="4.9" height="27.60" fill="#2e8553"/>
<rect x="611" y="655.00" width="1" height="30.60" fill="#2e8553"/>
<rect x="614.49" y="658.00" width="4.9" height="1.60" fill="#e50000"/>
<rect x="617" y="639.80" width="1" height="31.80" fill="#e50000"/>
<rect x="620.16" y="658.00" width="4.9" height="1.60" fill="#2e8553"/>
<rect x="622" y="653.00" width="1" height="17.50" fill="#2e8553"/>
<rect x="625.84" y="658.00" width="4.9" height="8.70" fill="#e50000"/>
<rect x="628" y="648.20" width="1" height="20.30" fill="#e50000"/>
<rect x="631.52" y="620.10" width="4.9" height="47.10" fill="#2e8553"/>
<rect x="634" y="614.00" width="1" height="54.50" fill="#2e8553"/>
<rect x="637.20" y="619.00" width="4.9" height="1.60" fill="#2e8553"/>
<rect x="639" y="614.00" width="1" height="29.90" fill="#2e8553"/>
<rect x="642.88" y="619.00" width="4.9" height="4.00" fill="#e50000"/>
<rect x="645" y="607.20" width="1" height="20.70" fill="#e50000"/>
<rect x="648.55" y="620.20" width="4.9" height="2.40" fill="#2e8553"/>
<rect x="651" y="613.10" width="1" height="21.70" fill="#2e8553"/>
<rect x="654.23" y="595.10" width="4.9" height="25.70" fill="#2e8553"/>
<rect x="656" y="586.00" width="1" height="35.80" fill="#2e8553"/>
<rect x="659.91" y="594.20" width="4.9" height="3.60" fill="#e50000"/>
<rect x="662" y="582.10" width="1" height="25.70" fill="#e50000"/>
<rect x="665.59" y="597.20" width="4.9" height="18.30" fill="#e50000"/>
<rect x="668" y="595.10" width="1" height="25.70" fill="#e50000"/>
<rect x="671.26" y="614.90" width="4.9" height="7.70" fill="#e50000"/>
<rect x="673" y="611.10" width="1" height="19.80" fill="#e50000"/>
<rect x="676.94" y="621.80" width="4.9" height="1.00" fill="#e50000"/>
<rect x="679" y="603.10" width="1" height="26.60" fill="#e50000"/>
<rect x="682.62" y="623.20" width="4.9" height="11.60" fill="#e50000"/>
<rect x="685" y="614.30" width="1" height="23.30" fill="#e50000"/>
<rect x="688.30" y="637.10" width="4.9" height="23.70" fill="#e50000"/>
<rect x="690" y="637.10" width="1" height="49.70" fill="#e50000"/>
<rect x="693.97" y="630.30" width="4.9" height="30.50" fill="#2e8553"/>
<rect x="696" y="630.30" width="1" height="36.60" fill="#2e8553"/>
<rect x="699.65" y="624.10" width="4.9" height="6.40" fill="#2e8553"/>
<rect x="702" y="612.00" width="1" height="22.80" fill="#2e8553"/>
<rect x="705.33" y="624.10" width="4.9" height="5.60" fill="#e50000"/>
<rect x="708" y="623.20" width="1" height="17.70" fill="#e50000"/>
<rect x="711.01" y="629.10" width="4.9" height="20.70" fill="#e50000"/>
<rect x="713" y="622.00" width="1" height="33.70" fill="#e50000"/>
<rect x="716.69" y="649.20" width="4.9" height="7.70" fill="#e50000"/>
<rect x="719" y="646.20" width="1" height="16.60" fill="#e50000"/>
<rect x="722.36" y="638.30" width="4.9" height="18.60" fill="#2e8553"/>
<rect x="725" y="632.10" width="1" height="28.70" fill="#2e8553"/>
<rect x="728.04" y="628.20" width="4.9" height="10.40" fill="#2e8553"/>
<rect x="730" y="616.20" width="1" height="36.50" fill="#2e8553"/>
<rect x="733.72" y="605.00" width="4.9" height="23.60" fill="#2e8553"/>
<rect x="736" y="604.10" width="1" height="29.50" fill="#2e8553"/>
<rect x="739.40" y="596.20" width="4.9" height="9.40" fill="#2e8553"/>
<rect x="742" y="588.20" width="1" height="21.60" fill="#2e8553"/>
<rect x="745.07" y="595.00" width="4.9" height="3.60" fill="#e50000"/>
<rect x="747" y="591.10" width="1" height="12.50" fill="#e50000"/>
<rect x="750.75" y="598.00" width="4.9" height="12.70" fill="#e50000"/>
<rect x="753" y="597.10" width="1" height="16.50" fill="#e50000"/>
<rect x="756.43" y="610.20" width="4.9" height="7.50" fill="#e50000"/>
<rect x="759" y="605.00" width="1" height="20.00" fill="#e50000"/>
<rect x="762.11" y="592.00" width="4.9" height="25.70" fill="#2e8553"/>
<rect x="764" y="592.00" width="1" height="26.60" fill="#2e8553"/>
<rect x="767.78" y="591.80" width="4.9" height="15.00" fill="#e50000"/>
<rect x="770" y="591.10" width="1" height="17.50" fill="#e50000"/>
<rect x="773.46" y="604.40" width="4.9" height="1.10" fill="#2e8553"/>
<rect x="776" y="584.10" width="1" height="23.60" fill="#2e8553"/>
<rect x="779.14" y="588.00" width="4.9" height="16.70" fill="#2e8553"/>
<rect x="781" y="587.10" width="1" height="19.70" fill="#2e8553"/>
<rect x="784.82" y="588.00" width="4.9" height="9.70" fill="#e50000"/>
<rect x="787" y="583.20" width="1" height="17.70" fill="#e50000"/>
<rect x="790.50" y="597.10" width="4.9" height="27.60" fill="#e50000"/>
<rect x="793" y="595.00" width="1" height="29.70" fill="#e50000"/>
<rect x="796.17" y="624.10" width="4.9" height="10.60" fill="#e50000"/>
<rect x="798" y="619.10" width="1" height="19.80" fill="#e50000"/>
<rect x="801.85" y="599.10" width="4.9" height="34.70" fill="#2e8553"/>
<rect x="804" y="592.00" width="1" height="41.80" fill="#2e8553"/>
<rect x="807.53" y="557.30" width="4.9" height="42.60" fill="#2e8553"/>
<rect x="810" y="553.10" width="1" height="48.70" fill="#2e8553"/>
<rect x="813.21" y="497.90" width="4.9" height="59.80" fill="#2e8553"/>
<rect x="815" y="496.30" width="1" height="63.30" fill="#2e8553"/>
<rect x="818.88" y="498.40" width="4.9" height="1.60" fill="#e50000"/>
<rect x="821" y="477.10" width="1" height="28.50" fill="#e50000"/>
<rect x="824.56" y="480.40" width="4.9" height="19.60" fill="#2e8553"/>
<rect x="827" y="466.00" width="1" height="36.80" fill="#2e8553"/>
<rect x="830.24" y="483.70" width="4.9" height="1.10" fill="#2e8553"/>
<rect x="832" y="471.20" width="1" height="21.80" fill="#2e8553"/>
<rect x="835.92" y="456.20" width="4.9" height="28.60" fill="#2e8553"/>
<rect x="838" y="446.70" width="1" height="38.10" fill="#2e8553"/>
<rect x="841.59" y="456.20" width="4.9" height="10.60" fill="#e50000"/>
<rect x="844" y="452.10" width="1" height="17.50" fill="#e50000"/>
<rect x="847.27" y="466.30" width="4.9" height="12.50" fill="#e50000"/>
<rect x="849" y="463.10" width="1" height="24.50" fill="#e50000"/>
<rect x="852.95" y="469.30" width="4.9" height="9.50" fill="#2e8553"/>
<rect x="855" y="458.20" width="1" height="26.60" fill="#2e8553"/>
<rect x="858.63" y="455.40" width="4.9" height="14.20" fill="#2e8553"/>
<rect x="861" y="453.20" width="1" height="19.70" fill="#2e8553"/>
<rect x="864.31" y="448.30" width="4.9" height="8.20" fill="#2e8553"/>
<rect x="867" y="445.10" width="1" height="19.60" fill="#2e8553"/>
<rect x="869.98" y="448.00" width="4.9" height="22.60" fill="#e50000"/>
<rect x="872" y="447.20" width="1" height="27.30" fill="#e50000"/>
<rect x="875.66" y="461.90" width="4.9" height="16.90" fill="#e50000"/>
<rect x="878" y="457.00" width="1" height="32.70" fill="#e50000"/>
<rect x="881.34" y="477.10" width="4.9" height="13.80" fill="#e50000"/>
<rect x="884" y="475.00" width="1" height="20.80" fill="#e50000"/>
<rect x="887.02" y="489.20" width="4.9" height="15.30" fill="#e50000"/>
<rect x="889" y="476.20" width="1" height="28.30" fill="#e50000"/>
<rect x="892.69" y="495.10" width="4.9" height="10.50" fill="#e50000"/>
<rect x="895" y="485.20" width="1" height="20.40" fill="#e50000"/>
<rect x="898.37" y="498.00" width="4.9" height="12.80" fill="#e50000"/>
<rect x="901" y="494.00" width="1" height="18.80" fill="#e50000"/>
<rect x="904.05" y="494.40" width="4.9" height="17.40" fill="#2e8553"/>
<rect x="906" y="488.10" width="1" height="28.80" fill="#2e8553"/>
<rect x="909.73" y="486.10" width="4.9" height="9.70" fill="#2e8553"/>
<rect x="912" y="480.30" width="1" height="26.40" fill="#2e8553"/>
<rect x="915.40" y="485.20" width="4.9" height="9.60" fill="#e50000"/>
<rect x="918" y="479.10" width="1" height="20.60" fill="#e50000"/>
<rect x="921.08" y="492.20" width="4.9" height="6.50" fill="#e50000"/>
<rect x="923" y="485.20" width="1" height="16.40" fill="#e50000"/>
<rect x="926.76" y="477.30" width="4.9" height="20.70" fill="#2e8553"/>
<rect x="929" y="454.10" width="1" height="47.50" fill="#2e8553"/>
<rect x="932.44" y="428.20" width="4.9" height="49.70" fill="#2e8553"/>
<rect x="935" y="382.40" width="1" height="110.50" fill="#2e8553"/>
<rect x="938.12" y="411.50" width="4.9" height="37.30" fill="#e50000"/>
<rect x="940" y="395.00" width="1" height="59.70" fill="#e50000"/>
<rect x="943.79" y="443.50" width="4.9" height="16.40" fill="#e50000"/>
<rect x="946" y="413.90" width="1" height="55.00" fill="#e50000"/>
<rect x="949.47" y="443.50" width="4.9" height="18.40" fill="#2e8553"/>
<rect x="952" y="432.30" width="1" height="33.40" fill="#2e8553"/>
<rect x="955.15" y="444.50" width="4.9" height="3.30" fill="#e50000"/>
<rect x="957" y="399.10" width="1" height="58.90" fill="#e50000"/>
<rect x="960.83" y="363.10" width="4.9" height="84.70" fill="#2e8553"/>
<rect x="963" y="351.30" width="1" height="96.50" fill="#2e8553"/>
<rect x="966.50" y="310.00" width="4.9" height="56.00" fill="#2e8553"/>
<rect x="969" y="275.20" width="1" height="91.60" fill="#2e8553"/>
<rect x="972.18" y="310.00" width="4.9" height="5.60" fill="#e50000"/>
<rect x="974" y="291.10" width="1" height="41.90" fill="#e50000"/>
<rect x="977.86" y="315.00" width="4.9" height="24.00" fill="#e50000"/>
<rect x="980" y="306.30" width="1" height="37.60" fill="#e50000"/>
<rect x="983.54" y="298.90" width="4.9" height="40.10" fill="#2e8553"/>
<rect x="986" y="295.30" width="1" height="43.70" fill="#2e8553"/>
<rect x="989.22" y="300.90" width="4.9" height="23.90" fill="#e50000"/>
<rect x="991" y="296.50" width="1" height="28.30" fill="#e50000"/>
<rect x="994.89" y="310.00" width="4.9" height="2.80" fill="#2e8553"/>
<rect x="997" y="300.20" width="1" height="12.60" fill="#2e8553"/>
<rect x="1000.57" y="262.10" width="4.9" height="40.40" fill="#2e8553"/>
<rect x="1003" y="242.90" width="1" height="73.20" fill="#2e8553"/>
<rect x="1006.25" y="262.90" width="4.9" height="30.80" fill="#e50000"/>
<rect x="1008" y="251.10" width="1" height="42.60" fill="#e50000"/>
<rect x="1011.93" y="293.20" width="4.9" height="34.90" fill="#e50000"/>
<rect x="1014" y="286.20" width="1" height="43.00" fill="#e50000"/>
<rect x="1017.60" y="303.00" width="4.9" height="24.60" fill="#2e8553"/>
<rect x="1020" y="300.20" width="1" height="27.40" fill="#2e8553"/>
<rect x="1023.28" y="303.00" width="4.9" height="8.70" fill="#e50000"/>
<rect x="1025" y="301.40" width="1" height="25.30" fill="#e50000"/>
<rect x="1028.96" y="292.00" width="4.9" height="19.70" fill="#2e8553"/>
<rect x="1031" y="291.10" width="1" height="30.70" fill="#2e8553"/>
<rect x="1034.64" y="291.10" width="4.9" height="49.60" fill="#e50000"/>
<rect x="1037" y="291.10" width="1" height="50.70" fill="#e50000"/>
<rect x="1040.31" y="303.80" width="4.9" height="20.00" fill="#e50000"/>
<rect x="1043" y="299.70" width="1" height="40.10" fill="#e50000"/>
<rect x="1045.99" y="323.10" width="4.9" height="34.40" fill="#e50000"/>
<rect x="1048" y="318.90" width="1" height="38.60" fill="#e50000"/>
<rect x="1051.67" y="332.00" width="4.9" height="3.60" fill="#2e8553"/>
<rect x="1054" y="305.90" width="1" height="51.00" fill="#2e8553"/>
<rect x="1057.35" y="320.90" width="4.9" height="33.10" fill="#e50000"/>
<rect x="1060" y="311.10" width="1" height="42.90" fill="#e50000"/>
<rect x="1063.03" y="309.10" width="4.9" height="18.70" fill="#2e8553"/>
<rect x="1065" y="305.90" width="1" height="33.00" fill="#2e8553"/>
<rect x="1068.70" y="309.10" width="4.9" height="46.50" fill="#e50000"/>
<rect x="1071" y="305.90" width="1" height="49.70" fill="#e50000"/>
<rect x="1074.38" y="331.10" width="4.9" height="35.60" fill="#e50000"/>
<rect x="1077" y="320.10" width="1" height="46.60" fill="#e50000"/>
<rect x="1080.06" y="349.10" width="4.9" height="6.50" fill="#2e8553"/>
<rect x="1082" y="334.00" width="1" height="31.90" fill="#2e8553"/>
<rect x="1085.74" y="349.10" width="4.9" height="95.90" fill="#e50000"/>
<rect x="1088" y="349.10" width="1" height="96.50" fill="#e50000"/>
<rect x="1091.41" y="370.00" width="4.9" height="31.90" fill="#2e8553"/>
<rect x="1094" y="365.90" width="1" height="36.00" fill="#2e8553"/>
<rect x="1097.09" y="370.00" width="4.9" height="4.10" fill="#e50000"/>
<rect x="1099" y="343.00" width="1" height="32.70" fill="#e50000"/>
<rect x="1102.77" y="368.00" width="4.9" height="5.60" fill="#2e8553"/>
<rect x="1105" y="355.30" width="1" height="74.50" fill="#2e8553"/>
<rect x="1108.45" y="369.20" width="4.9" height="5.40" fill="#e50000"/>
<rect x="1111" y="358.20" width="1" height="70.70" fill="#e50000"/>
<rect x="1114.12" y="350.00" width="4.9" height="29.00" fill="#2e8553"/>
<rect x="1116" y="336.00" width="1" height="43.00" fill="#2e8553"/>
<rect x="1119.80" y="337.00" width="4.9" height="13.70" fill="#2e8553"/>
<rect x="1122" y="336.00" width="1" height="22.90" fill="#2e8553"/>
<rect x="1125.48" y="337.00" width="4.9" height="64.90" fill="#e50000"/>
<rect x="1128" y="311.10" width="1" height="101.80" fill="#e50000"/>
<rect x="1131.16" y="322.20" width="4.9" height="16.40" fill="#e50000"/>
<rect x="1133" y="317.30" width="1" height="28.50" fill="#e50000"/>
<rect x="1136.84" y="311.90" width="4.9" height="26.70" fill="#2e8553"/>
<rect x="1139" y="307.00" width="1" height="105.90" fill="#2e8553"/>
<rect x="1142.51" y="305.30" width="4.9" height="5.80" fill="#2e8553"/>
<rect x="1145" y="292.90" width="1" height="18.90" fill="#2e8553"/>
<rect x="1148.19" y="305.30" width="4.9" height="17.90" fill="#e50000"/>
<rect x="1150" y="297.00" width="1" height="26.70" fill="#e50000"/>
<rect x="1153.87" y="322.00" width="4.9" height="13.10" fill="#e50000"/>
<rect x="1156" y="316.90" width="1" height="19.90" fill="#e50000"/>
<rect x="1159.55" y="308.20" width="4.9" height="26.60" fill="#2e8553"/>
<rect x="1162" y="304.30" width="1" height="56.70" fill="#2e8553"/>
<rect x="1165.22" y="308.20" width="4.9" height="8.70" fill="#e50000"/>
<rect x="1167" y="303.10" width="1" height="24.70" fill="#e50000"/>
<rect x="1170.90" y="287.10" width="4.9" height="29.80" fill="#2e8553"/>
<rect x="1173" y="283.00" width="1" height="33.90" fill="#2e8553"/>
<rect x="1176.58" y="287.10" width="4.9" height="21.80" fill="#e50000"/>
<rect x="1179" y="282.00" width="1" height="28.70" fill="#e50000"/>
<rect x="1182.26" y="294.10" width="4.9" height="14.80" fill="#2e8553"/>
<rect x="1184" y="288.30" width="1" height="24.20" fill="#2e8553"/>
<rect x="1187.93" y="285.30" width="4.9" height="9.40" fill="#2e8553"/>
<rect x="1190" y="268.20" width="1" height="29.80" fill="#2e8553"/>
<rect x="1193.61" y="283.00" width="4.9" height="17.90" fill="#e50000"/>
<rect x="1196" y="281.30" width="1" height="27.60" fill="#e50000"/>
<rect x="1199.29" y="292.20" width="4.9" height="8.70" fill="#2e8553"/>
<rect x="1201" y="287.10" width="1" height="16.70" fill="#2e8553"/>
<rect x="1204.97" y="290.70" width="4.9" height="1.00" fill="#2e8553"/>
<rect x="1207" y="284.20" width="1" height="23.50" fill="#2e8553"/>
<rect x="1210.65" y="271.10" width="4.9" height="20.60" fill="#2e8553"/>
<rect x="1213" y="267.00" width="1" height="31.00" fill="#2e8553"/>
<rect x="1216.32" y="240.30" width="4.9" height="31.10" fill="#2e8553"/>
<rect x="1219" y="224.30" width="1" height="47.10" fill="#2e8553"/>
<rect x="1222.00" y="239.10" width="4.9" height="12.80" fill="#e50000"/>
<rect x="1224" y="229.20" width="1" height="40.40" fill="#e50000"/>
<rect x="1227.68" y="247.10" width="4.9" height="9.70" fill="#2e8553"/>
<rect x="1230" y="229.20" width="1" height="29.50" fill="#2e8553"/>
<rect x="1233.36" y="246.10" width="4.9" height="27.90" fill="#e50000"/>
<rect x="1236" y="241.30" width="1" height="33.40" fill="#e50000"/>
<rect x="1239.03" y="269.80" width="4.9" height="3.60" fill="#e50000"/>
<rect x="1241" y="257.10" width="1" height="22.70" fill="#e50000"/>
<rect x="1244.71" y="268.10" width="4.9" height="5.30" fill="#2e8553"/>
<rect x="1247" y="266.80" width="1" height="16.80" fill="#2e8553"/>
<rect x="1250.39" y="260.00" width="4.9" height="9.60" fill="#2e8553"/>
<rect x="1253" y="252.00" width="1" height="17.60" fill="#2e8553"/>
<rect x="1256.07" y="241.90" width="4.9" height="39.80" fill="#2e8553"/>
<rect x="1258" y="240.30" width="1" height="41.40" fill="#2e8553"/>
<rect x="1261.74" y="231.20" width="4.9" height="10.10" fill="#2e8553"/>
<rect x="1264" y="220.00" width="1" height="21.30" fill="#2e8553"/>
<rect x="1267.42" y="215.10" width="4.9" height="13.50" fill="#2e8553"/>
<rect x="1270" y="213.00" width="1" height="23.80" fill="#2e8553"/>
<rect x="1273.10" y="201.10" width="4.9" height="14.40" fill="#2e8553"/>
<rect x="1275" y="187.20" width="1" height="28.30" fill="#2e8553"/>
<rect x="1278.78" y="196.10" width="4.9" height="5.40" fill="#2e8553"/>
<rect x="1281" y="184.10" width="1" height="23.80" fill="#2e8553"/>
<rect x="1284.46" y="173.20" width="4.9" height="16.50" fill="#2e8553"/>
<rect x="1287" y="173.20" width="1" height="25.40" fill="#2e8553"/>
<rect x="1290.13" y="167.20" width="4.9" height="7.20" fill="#2e8553"/>
<rect x="1292" y="159.20" width="1" height="22.40" fill="#2e8553"/>
<rect x="1295.81" y="168.40" width="4.9" height="1.30" fill="#e50000"/>
<rect x="1298" y="166.30" width="1" height="19.30" fill="#e50000"/>
<rect x="1301.49" y="170.10" width="4.9" height="13.60" fill="#e50000"/>
<rect x="1304" y="166.30" width="1" height="29.50" fill="#e50000"/>
<rect x="1307.17" y="177.00" width="4.9" height="6.30" fill="#2e8553"/>
<rect x="1309" y="173.20" width="1" height="10.10" fill="#2e8553"/>
<rect x="1312.84" y="174.20" width="4.9" height="25.40" fill="#e50000"/>
<rect x="1315" y="172.30" width="1" height="33.40" fill="#e50000"/>
<rect x="1318.52" y="193.30" width="4.9" height="5.30" fill="#2e8553"/>
<rect x="1321" y="180.30" width="1" height="26.30" fill="#2e8553"/>
<rect x="1324.20" y="194.30" width="4.9" height="2.10" fill="#e50000"/>
<rect x="1326" y="192.00" width="1" height="12.70" fill="#e50000"/>
<rect x="1329.88" y="196.20" width="4.9" height="5.40" fill="#e50000"/>
<rect x="1332" y="185.20" width="1" height="28.70" fill="#e50000"/>
<rect x="1335.55" y="202.30" width="4.9" height="3.40" fill="#e50000"/>
<rect x="1338" y="197.10" width="1" height="15.40" fill="#e50000"/>
<rect x="1341.23" y="212.10" width="4.9" height="1.80" fill="#e50000"/>
<rect x="1343" y="202.00" width="1" height="13.90" fill="#e50000"/>
<rect x="1346.91" y="213.20" width="4.9" height="21.80" fill="#e50000"/>
<rect x="1349" y="203.90" width="1" height="31.80" fill="#e50000"/>
<rect x="1352.59" y="223.00" width="4.9" height="11.80" fill="#2e8553"/>
<rect x="1355" y="194.10" width="1" height="51.90" fill="#2e8553"/>
<rect x="1358.27" y="221.10" width="4.9" height="14.60" fill="#e50000"/>
<rect x="1360" y="220.00" width="1" height="27.60" fill="#e50000"/>
<rect x="1363.94" y="226.20" width="4.9" height="9.50" fill="#2e8553"/>
<rect x="1366" y="211.20" width="1" height="24.50" fill="#2e8553"/>
<rect x="1369.62" y="203.90" width="4.9" height="20.90" fill="#2e8553"/>
<rect x="1372" y="196.20" width="1" height="32.70" fill="#2e8553"/>
<rect x="1375.30" y="183.90" width="4.9" height="20.80" fill="#2e8553"/>
<rect x="1377" y="182.10" width="1" height="25.60" fill="#2e8553"/>
<rect x="1380.98" y="179.10" width="4.9" height="5.70" fill="#2e8553"/>
<rect x="1383" y="177.10" width="1" height="20.80" fill="#2e8553"/>
<rect x="1386.65" y="179.10" width="4.9" height="5.70" fill="#e50000"/>
<rect x="1389" y="172.00" width="1" height="18.70" fill="#e50000"/>
<rect x="1392.33" y="187.00" width="4.9" height="1.00" fill="#e50000"/>
<rect x="1395" y="182.10" width="1" height="18.60" fill="#e50000"/>
<rect x="1398.01" y="183.20" width="4.9" height="55.70" fill="#e50000"/>
<rect x="1400" y="179.10" width="1" height="59.80" fill="#e50000"/>
<rect x="1403.69" y="237.10" width="4.9" height="14.60" fill="#e50000"/>
<rect x="1406" y="234.40" width="1" height="26.60" fill="#e50000"/>
<rect x="1409.36" y="251.10" width="4.9" height="47.80" fill="#e50000"/>
<rect x="1412" y="243.20" width="1" height="55.70" fill="#e50000"/>
<rect x="1415.04" y="295.10" width="4.9" height="2.70" fill="#2e8553"/>
<rect x="1417" y="279.40" width="1" height="18.40" fill="#2e8553"/>
<rect x="1420.72" y="238.00" width="4.9" height="56.80" fill="#2e8553"/>
<rect x="1423" y="235.00" width="1" height="66.90" fill="#2e8553"/>
<rect x="1426.40" y="236.10" width="4.9" height="7.50" fill="#e50000"/>
<rect x="1429" y="234.80" width="1" height="15.60" fill="#e50000"/>
<rect x="1432.08" y="242.00" width="4.9" height="2.50" fill="#2e8553"/>
<rect x="1434" y="238.30" width="1" height="19.30" fill="#2e8553"/>
<rect x="1437.75" y="215.10" width="4.9" height="28.70" fill="#2e8553"/>
<rect x="1440" y="212.10" width="1" height="33.50" fill="#2e8553"/>
<rect x="1443.43" y="213.20" width="4.9" height="2.40" fill="#2e8553"/>
<rect x="1446" y="202.00" width="1" height="27.80" fill="#2e8553"/>
<rect x="1449.11" y="212.10" width="4.9" height="9.50" fill="#e50000"/>
<rect x="1451" y="208.00" width="1" height="16.60" fill="#e50000"/>
<rect x="1454.79" y="219.10" width="4.9" height="10.50" fill="#e50000"/>
<rect x="1457" y="209.10" width="1" height="27.50" fill="#e50000"/>
<rect x="1460.46" y="210.20" width="4.9" height="19.40" fill="#2e8553"/>
<rect x="1463" y="202.00" width="1" height="32.70" fill="#2e8553"/>
<rect x="1466.14" y="200.10" width="4.9" height="10.30" fill="#2e8553"/>
<rect x="1468" y="192.20" width="1" height="18.20" fill="#2e8553"/>
<rect x="1471.82" y="200.10" width="4.9" height="18.60" fill="#e50000"/>
<rect x="1474" y="197.10" width="1" height="26.40" fill="#e50000"/>
<rect x="1477.50" y="199.00" width="4.9" height="19.70" fill="#2e8553"/>
<rect x="1480" y="197.10" width="1" height="21.60" fill="#2e8553"/>
<rect x="1483.17" y="196.90" width="4.9" height="17.80" fill="#e50000"/>
<rect x="1485" y="196.00" width="1" height="19.60" fill="#e50000"/>
<rect x="1488.85" y="214.00" width="4.9" height="5.80" fill="#e50000"/>
<rect x="1491" y="204.20" width="1" height="16.30" fill="#e50000"/>
<rect x="1494.53" y="216.90" width="4.9" height="2.90" fill="#2e8553"/>
<rect x="1497" y="210.20" width="1" height="16.30" fill="#2e8553"/>
<rect x="1500.21" y="216.90" width="4.9" height="15.90" fill="#e50000"/>
<rect x="1502" y="214.00" width="1" height="19.60" fill="#e50000"/>
<rect x="1505.89" y="195.10" width="4.9" height="37.70" fill="#2e8553"/>
<rect x="1508" y="188.10" width="1" height="51.50" fill="#2e8553"/>
<rect x="1511.56" y="194.00" width="4.9" height="34.90" fill="#e50000"/>
<rect x="1514" y="192.90" width="1" height="39.90" fill="#e50000"/>
<rect x="1517.24" y="199.00" width="4.9" height="29.90" fill="#2e8553"/>
<rect x="1519" y="199.00" width="1" height="33.80" fill="#2e8553"/>
<rect x="1522.92" y="211.10" width="4.9" height="8.40" fill="#2e8553"/>
<rect x="1525" y="211.10" width="1" height="28.90" fill="#2e8553"/>
<rect x="1528.60" y="216.00" width="4.9" height="6.50" fill="#2e8553"/>
<rect x="1531" y="202.00" width="1" height="22.70" fill="#2e8553"/>
<rect x="1534.27" y="205.90" width="4.9" height="1.10" fill="#2e8553"/>
<rect x="1536" y="199.10" width="1" height="17.40" fill="#2e8553"/>
<rect x="1539.95" y="198.00" width="4.9" height="5.80" fill="#2e8553"/>
<rect x="1542" y="190.00" width="1" height="15.60" fill="#2e8553"/>
<rect x="1545.63" y="199.10" width="4.9" height="22.50" fill="#e50000"/>
<rect x="1548" y="196.10" width="1" height="33.50" fill="#e50000"/>
<rect x="1551.31" y="214.00" width="4.9" height="5.50" fill="#2e8553"/>
<rect x="1554" y="207.20" width="1" height="23.50" fill="#2e8553"/>
<rect x="1556.99" y="214.00" width="4.9" height="4.70" fill="#e50000"/>
<rect x="1559" y="211.10" width="1" height="12.50" fill="#e50000"/>
<rect x="1562.66" y="195.00" width="4.9" height="23.70" fill="#2e8553"/>
<rect x="1565" y="182.20" width="1" height="36.50" fill="#2e8553"/>
<rect x="1568.34" y="180.90" width="4.9" height="16.70" fill="#2e8553"/>
<rect x="1571" y="180.00" width="1" height="19.60" fill="#2e8553"/>
<rect x="1574.02" y="182.20" width="4.9" height="17.40" fill="#e50000"/>
<rect x="1576" y="175.10" width="1" height="24.50" fill="#e50000"/>
<rect x="1579.70" y="199.40" width="4.9" height="4.00" fill="#e50000"/>
<rect x="1582" y="192.00" width="1" height="14.70" fill="#e50000"/>
<rect x="1585.37" y="190.00" width="4.9" height="13.40" fill="#2e8553"/>
<rect x="1588" y="186.00" width="1" height="27.80" fill="#2e8553"/>
<rect x="1591.05" y="190.00" width="4.9" height="1.00" fill="#2e8553"/>
<rect x="1593" y="186.00" width="1" height="14.70" fill="#2e8553"/>
<rect x="1596.73" y="182.20" width="4.9" height="8.50" fill="#2e8553"/>
<rect x="1599" y="176.90" width="1" height="18.90" fill="#2e8553"/>
<rect x="1602.41" y="147.00" width="4.9" height="34.60" fill="#2e8553"/>
<rect x="1605" y="143.10" width="1" height="39.60" fill="#2e8553"/>
<rect x="1608.08" y="150.00" width="4.9" height="15.80" fill="#e50000"/>
<rect x="1610" y="130.00" width="1" height="35.80" fill="#e50000"/>
<rect x="1613.76" y="164.90" width="4.9" height="8.80" fill="#e50000"/>
<rect x="1616" y="152.90" width="1" height="32.00" fill="#e50000"/>
<rect x="1619.44" y="171.80" width="4.9" height="16.00" fill="#e50000"/>
<rect x="1622" y="171.40" width="1" height="20.40" fill="#e50000"/>
<rect x="1625.12" y="168.10" width="4.9" height="19.70" fill="#2e8553"/>
<rect x="1627" y="168.10" width="1" height="24.80" fill="#2e8553"/>
<rect x="1630.80" y="164.20" width="4.9" height="7.60" fill="#2e8553"/>
<rect x="1633" y="162.00" width="1" height="13.80" fill="#2e8553"/>
<rect x="1636.47" y="164.20" width="4.9" height="25.40" fill="#e50000"/>
<rect x="1639" y="163.10" width="1" height="28.70" fill="#e50000"/>
<rect x="1642.15" y="189.30" width="4.9" height="24.60" fill="#e50000"/>
<rect x="1644" y="184.20" width="1" height="34.50" fill="#e50000"/>
<rect x="1647.83" y="201.10" width="4.9" height="14.40" fill="#2e8553"/>
<rect x="1650" y="199.10" width="1" height="16.40" fill="#2e8553"/>
<rect x="1653.51" y="193.20" width="4.9" height="7.30" fill="#2e8553"/>
<rect x="1656" y="184.20" width="1" height="16.30" fill="#2e8553"/>
<rect x="1659.18" y="190.20" width="4.9" height="3.50" fill="#2e8553"/>
<rect x="1661" y="180.90" width="1" height="16.90" fill="#2e8553"/>
<rect x="1664.86" y="190.20" width="4.9" height="2.40" fill="#e50000"/>
<rect x="1667" y="176.00" width="1" height="19.80" fill="#e50000"/>
<rect x="1670.54" y="192.10" width="4.9" height="5.50" fill="#e50000"/>
<rect x="1673" y="182.00" width="1" height="24.50" fill="#e50000"/>
<rect x="1676.22" y="188.00" width="4.9" height="9.60" fill="#2e8553"/>
<rect x="1678" y="182.00" width="1" height="15.60" fill="#2e8553"/>
<rect x="1681.89" y="194.00" width="4.9" height="4.70" fill="#e50000"/>
<rect x="1684" y="191.00" width="1" height="25.90" fill="#e50000"/>
<rect x="1687.57" y="199.10" width="4.9" height="17.80" fill="#e50000"/>
<rect x="1690" y="196.20" width="1" height="22.30" fill="#e50000"/>
<rect x="1693.25" y="216.10" width="4.9" height="9.50" fill="#e50000"/>
<rect x="1695" y="214.20" width="1" height="20.50" fill="#e50000"/>
<rect x="1698.93" y="225.10" width="4.9" height="21.60" fill="#e50000"/>
<rect x="1701" y="218.00" width="1" height="34.90" fill="#e50000"/>
<rect x="1704.61" y="228.00" width="4.9" height="19.80" fill="#2e8553"/>
<rect x="1707" y="224.00" width="1" height="23.80" fill="#2e8553"/>
<rect x="1710.28" y="230.00" width="4.9" height="14.80" fill="#e50000"/>
<rect x="1712" y="224.00" width="1" height="23.80" fill="#e50000"/>
<rect x="1715.96" y="232.00" width="4.9" height="12.80" fill="#2e8553"/>
<rect x="1718" y="229.00" width="1" height="23.80" fill="#2e8553"/>
<rect x="1721.64" y="219.00" width="4.9" height="14.00" fill="#2e8553"/>
<rect x="1724" y="219.00" width="1" height="14.80" fill="#2e8553"/>
<rect x="1727.32" y="206.00" width="4.9" height="14.80" fill="#2e8553"/>
<rect x="1730" y="203.00" width="1" height="17.80" fill="#2e8553"/>
<rect x="1732.99" y="206.00" width="4.9" height="11.80" fill="#e50000"/>
<rect x="1735" y="192.20" width="1" height="25.60" fill="#e50000"/>
<rect x="1738.67" y="212.00" width="4.9" height="9.80" fill="#e50000"/>
<rect x="1741" y="209.00" width="1" height="12.80" fill="#e50000"/>
<rect x="1744.35" y="220.00" width="4.9" height="14.80" fill="#e50000"/>
<rect x="1747" y="216.50" width="1" height="18.30" fill="#e50000"/>
<rect x="1750.03" y="231.20" width="4.9" height="3.60" fill="#2e8553"/>
<rect x="1752" y="227.20" width="1" height="14.30" fill="#2e8553"/>
<rect x="1755.70" y="228.20" width="4.9" height="3.60" fill="#2e8553"/>
<rect x="1758" y="228.20" width="1" height="10.60" fill="#2e8553"/>
<rect x="1761.38" y="225.20" width="4.9" height="4.60" fill="#2e8553"/>
<rect x="1764" y="218.20" width="1" height="15.60" fill="#2e8553"/>
<rect x="1767.06" y="220.20" width="4.9" height="3.60" fill="#2e8553"/>
<rect x="1769" y="217.20" width="1" height="10.60" fill="#2e8553"/>
<rect x="1772.74" y="218.20" width="4.9" height="1.60" fill="#2e8553"/>
<rect x="1775" y="212.20" width="1" height="13.60" fill="#2e8553"/>
<rect x="1778.42" y="217.00" width="4.9" height="17.80" fill="#e50000"/>
<rect x="1781" y="213.00" width="1" height="27.80" fill="#e50000"/>
<rect x="1784.09" y="234.00" width="4.9" height="12.80" fill="#e50000"/>
<rect x="1786" y="222.00" width="1" height="28.80" fill="#e50000"/>
<rect x="1789.77" y="245.00" width="4.9" height="9.70" fill="#e50000"/>
<rect x="1792" y="241.40" width="1" height="18.40" fill="#e50000"/>
<rect x="1795.45" y="257.30" width="4.9" height="3.40" fill="#e50000"/>
<rect x="1798" y="253.20" width="1" height="11.50" fill="#e50000"/>
<rect x="1801.13" y="260.00" width="4.9" height="13.60" fill="#e50000"/>
<rect x="1803" y="256.20" width="1" height="19.30" fill="#e50000"/>
<rect x="1806.80" y="270.90" width="4.9" height="2.70" fill="#2e8553"/>
<rect x="1809" y="267.30" width="1" height="9.50" fill="#2e8553"/>
<rect x="1812.48" y="251.10" width="4.9" height="19.40" fill="#2e8553"/>
<rect x="1815" y="250.20" width="1" height="20.30" fill="#2e8553"/>
<rect x="1818.16" y="246.40" width="4.9" height="5.40" fill="#2e8553"/>
<rect x="1820" y="237.30" width="1" height="19.50" fill="#2e8553"/>
<rect x="1823.84" y="246.20" width="4.9" height="1.00" fill="#2e8553"/>
<rect x="1826" y="240.20" width="1" height="12.50" fill="#2e8553"/>
<rect x="1829.51" y="240.20" width="4.9" height="6.60" fill="#2e8553"/>
<rect x="1832" y="232.00" width="1" height="18.70" fill="#2e8553"/>
<rect x="1835.19" y="237.30" width="4.9" height="3.40" fill="#2e8553"/>
<rect x="1837" y="235.00" width="1" height="10.60" fill="#2e8553"/>
<rect x="1840.87" y="223.20" width="4.9" height="15.70" fill="#2e8553"/>
<rect x="1843" y="216.20" width="1" height="24.90" fill="#2e8553"/>
<rect x="1846.55" y="223.20" width="4.9" height="4.50" fill="#e50000"/>
<rect x="1849" y="217.10" width="1" height="14.70" fill="#e50000"/>
<rect x="1852.23" y="226.20" width="4.9" height="12.90" fill="#e50000"/>
<rect x="1854" y="226.20" width="1" height="13.60" fill="#e50000"/>
<rect x="1857.90" y="238.20" width="4.9" height="2.50" fill="#e50000"/>
<rect x="1860" y="232.00" width="1" height="10.90" fill="#e50000"/>
<rect x="1863.58" y="240.00" width="4.9" height="18.60" fill="#e50000"/>
<rect x="1866" y="235.00" width="1" height="25.70" fill="#e50000"/>
<rect x="1869.26" y="258.00" width="4.9" height="1.00" fill="#2e8553"/>
<rect x="1871" y="250.20" width="1" height="15.70" fill="#2e8553"/>
<rect x="1874.94" y="258.00" width="4.9" height="3.60" fill="#e50000"/>
<rect x="1877" y="250.20" width="1" height="20.00" fill="#e50000"/>
<rect x="1880.61" y="259.30" width="4.9" height="3.20" fill="#2e8553"/>
<rect x="1883" y="250.20" width="1" height="15.70" fill="#2e8553"/>
<rect x="1886.29" y="245.00" width="4.9" height="14.80" fill="#2e8553"/>
<rect x="1888" y="239.10" width="1" height="23.60" fill="#2e8553"/>
<rect x="1891.97" y="236.20" width="4.9" height="10.30" fill="#2e8553"/>
<rect x="1894" y="234.40" width="1" height="16.10" fill="#2e8553"/>
<rect x="1897.65" y="236.20" width="4.9" height="1.00" fill="#2e8553"/>
<rect x="1900" y="230.20" width="1" height="11.40" fill="#2e8553"/>
<rect x="1903.32" y="234.10" width="4.9" height="2.40" fill="#2e8553"/>
<rect x="1906" y="232.30" width="1" height="16.30" fill="#2e8553"/>
<rect x="1909.00" y="231.40" width="4.9" height="4.10" fill="#2e8553"/>
<rect x="1911" y="217.10" width="1" height="20.60" fill="#2e8553"/>
<rect x="1914.68" y="226.40" width="4.9" height="5.20" fill="#2e8553"/>
<rect x="1917" y="225.00" width="1" height="11.80" fill="#2e8553"/>
<rect x="1920.36" y="213.20" width="4.9" height="13.20" fill="#2e8553"/>
<rect x="1923" y="209.10" width="1" height="17.30" fill="#2e8553"/>
<rect x="1926.04" y="213.20" width="4.9" height="7.50" fill="#e50000"/>
<rect x="1928" y="207.10" width="1" height="13.60" fill="#e50000"/>
<rect x="1931.71" y="220.00" width="4.9" height="1.00" fill="#2e8553"/>
<rect x="1934" y="211.10" width="1" height="13.60" fill="#2e8553"/>
<rect x="1937.39" y="221.10" width="4.9" height="1.00" fill="#e50000"/>
<rect x="1940" y="211.10" width="1" height="17.50" fill="#e50000"/>
<rect x="1943.07" y="222.30" width="4.9" height="3.30" fill="#e50000"/>
<rect x="1945" y="215.00" width="1" height="13.60" fill="#e50000"/>
<rect x="1948.75" y="203.20" width="4.9" height="22.40" fill="#2e8553"/>
<rect x="1951" y="202.30" width="1" height="24.20" fill="#2e8553"/>
<rect x="1954.42" y="188.20" width="4.9" height="15.60" fill="#2e8553"/>
<rect x="1957" y="181.10" width="1" height="25.40" fill="#2e8553"/>
<rect x="1960.10" y="188.40" width="4.9" height="1.00" fill="#e50000"/>
<rect x="1962" y="185.00" width="1" height="9.70" fill="#e50000"/>
<rect x="1965.78" y="185.30" width="4.9" height="4.50" fill="#2e8553"/>
<rect x="1968" y="179.10" width="1" height="13.60" fill="#2e8553"/>
<rect x="1971.46" y="185.50" width="4.9" height="1.00" fill="#e50000"/>
<rect x="1974" y="168.20" width="1" height="21.30" fill="#e50000"/>
<rect x="1977.13" y="186.40" width="4.9" height="3.10" fill="#e50000"/>
<rect x="1979" y="183.50" width="1" height="16.00" fill="#e50000"/>
<rect x="1982.81" y="189.10" width="4.9" height="5.40" fill="#e50000"/>
<rect x="1985" y="181.20" width="1" height="16.30" fill="#e50000"/>
<rect x="1988.49" y="194.30" width="4.9" height="4.30" fill="#e50000"/>
<rect x="1991" y="189.40" width="1" height="11.20" fill="#e50000"/>
<rect x="1994.17" y="183.20" width="4.9" height="12.50" fill="#2e8553"/>
<rect x="1996" y="179.10" width="1" height="20.60" fill="#2e8553"/>
<rect x="1999.85" y="172.10" width="4.9" height="11.80" fill="#2e8553"/>
<rect x="2002" y="168.20" width="1" height="15.70" fill="#2e8553"/>
<rect x="2005.52" y="172.10" width="4.9" height="3.60" fill="#e50000"/>
<rect x="2008" y="166.10" width="1" height="11.40" fill="#e50000"/>
<rect x="2011.20" y="175.20" width="4.9" height="1.00" fill="#e50000"/>
<rect x="2013" y="175.20" width="1" height="1.00" fill="#e50000"/>
<rect x="2016.88" y="175.20" width="4.9" height="2.50" fill="#e50000"/>
<rect x="2019" y="170.00" width="1" height="10.90" fill="#e50000"/>
<rect x="2022.56" y="178.20" width="4.9" height="1.00" fill="#e50000"/>
<rect x="2025" y="172.10" width="1" height="12.70" fill="#e50000"/>
<rect x="2028.23" y="178.20" width="4.9" height="9.30" fill="#e50000"/>
<rect x="2030" y="175.20" width="1" height="12.30" fill="#e50000"/>
<rect x="2033.91" y="184.30" width="4.9" height="3.20" fill="#2e8553"/>
<rect x="2036" y="182.10" width="1" height="12.70" fill="#2e8553"/>
<rect x="2039.59" y="184.30" width="4.9" height="3.00" fill="#e50000"/>
<rect x="2042" y="184.30" width="1" height="3.00" fill="#e50000"/>
<rect x="2045.27" y="185.00" width="4.9" height="11.80" fill="#e50000"/>
<rect x="2047" y="180.30" width="1" height="16.50" fill="#e50000"/>
<rect x="2050.95" y="193.20" width="4.9" height="1.00" fill="#e50000"/>
<rect x="2053" y="192.10" width="1" height="22.70" fill="#e50000"/>
<rect x="2056.62" y="193.20" width="4.9" height="13.60" fill="#e50000"/>
<rect x="2059" y="188.20" width="1" height="18.60" fill="#e50000"/>
<rect x="2062.30" y="206.40" width="4.9" height="2.20" fill="#e50000"/>
<rect x="2065" y="201.20" width="1" height="8.30" fill="#e50000"/>
<rect x="2067.98" y="208.20" width="4.9" height="9.50" fill="#e50000"/>
<rect x="2070" y="207.30" width="1" height="12.40" fill="#e50000"/>
<rect x="2073.66" y="217.30" width="4.9" height="6.30" fill="#e50000"/>
<rect x="2076" y="214.30" width="1" height="13.40" fill="#e50000"/>
<rect x="2079.33" y="212.70" width="4.9" height="10.80" fill="#2e8553"/>
<rect x="2082" y="201.80" width="1" height="25.00" fill="#2e8553"/>
<rect x="2085.01" y="212.40" width="4.9" height="6.90" fill="#e50000"/>
<rect x="2087" y="209.10" width="1" height="13.90" fill="#e50000"/>
<rect x="2090.69" y="218.60" width="4.9" height="1.20" fill="#e50000"/>
<rect x="2093" y="214.00" width="1" height="9.00" fill="#e50000"/>
<rect x="2096.37" y="219.80" width="4.9" height="13.90" fill="#e50000"/>
<rect x="2099" y="218.60" width="1" height="17.00" fill="#e50000"/>
<rect x="2102.04" y="232.80" width="4.9" height="1.70" fill="#e50000"/>
<rect x="2104" y="225.20" width="1" height="13.40" fill="#e50000"/>
<rect x="2107.72" y="218.90" width="4.9" height="20.50" fill="#2e8553"/>
<rect x="2110" y="218.10" width="1" height="22.90" fill="#2e8553"/>
<rect x="2113.40" y="195.20" width="4.9" height="24.10" fill="#2e8553"/>
<rect x="2116" y="179.30" width="1" height="43.20" fill="#2e8553"/>
<rect x="2119.08" y="195.20" width="4.9" height="11.50" fill="#e50000"/>
<rect x="2121" y="187.00" width="1" height="21.80" fill="#e50000"/>
<rect x="2124.76" y="186.20" width="4.9" height="20.50" fill="#2e8553"/>
<rect x="2127" y="184.20" width="1" height="26.20" fill="#2e8553"/>
<rect x="2130.43" y="162.00" width="4.9" height="24.50" fill="#2e8553"/>
<rect x="2133" y="160.00" width="1" height="31.90" fill="#2e8553"/>
<rect x="2136.11" y="142.00" width="4.9" height="3.60" fill="#2e8553"/>
<rect x="2138" y="134.20" width="1" height="23.40" fill="#2e8553"/>
<rect x="2141.79" y="94.20" width="4.9" height="48.10" fill="#2e8553"/>
<rect x="2144" y="77.40" width="1" height="74.40" fill="#2e8553"/>
<rect x="2147.47" y="94.20" width="4.9" height="27.40" fill="#e50000"/>
<rect x="2150" y="87.20" width="1" height="50.20" fill="#e50000"/>
<rect x="2153.14" y="115.50" width="4.9" height="6.10" fill="#2e8553"/>
<rect x="2155" y="105.20" width="1" height="28.30" fill="#2e8553"/>
<rect x="2158.82" y="115.00" width="4.9" height="37.70" fill="#e50000"/>
<rect x="2161" y="112.20" width="1" height="40.50" fill="#e50000"/>
<rect x="2164.50" y="153.10" width="4.9" height="19.70" fill="#e50000"/>
<rect x="2167" y="144.40" width="1" height="32.30" fill="#e50000"/>
<rect x="2170.18" y="162.30" width="4.9" height="10.40" fill="#2e8553"/>
<rect x="2172" y="159.30" width="1" height="15.40" fill="#2e8553"/>
<rect x="2175.85" y="162.30" width="4.9" height="6.30" fill="#e50000"/>
<rect x="2178" y="157.30" width="1" height="14.30" fill="#e50000"/>
<rect x="2181.53" y="168.20" width="4.9" height="7.40" fill="#e50000"/>
<rect x="2184" y="162.30" width="1" height="13.30" fill="#e50000"/>
<rect x="2187.21" y="162.30" width="4.9" height="13.30" fill="#2e8553"/>
<rect x="2189" y="160.20" width="1" height="19.80" fill="#2e8553"/>
<rect x="2192.89" y="131.40" width="4.9" height="33.60" fill="#2e8553"/>
<rect x="2195" y="128.20" width="1" height="37.40" fill="#2e8553"/>
<rect x="2198.57" y="132.30" width="4.9" height="6.30" fill="#e50000"/>
<rect x="2201" y="127.10" width="1" height="13.60" fill="#e50000"/>
<rect x="2204.24" y="138.40" width="4.9" height="3.20" fill="#e50000"/>
<rect x="2206" y="127.10" width="1" height="30.60" fill="#e50000"/>
</g>
<g clip-path="url(#cr)">
<rect x="2" y="802.9" width="2247" height="114.3" fill="#7e57c2" fill-opacity="0.1"/>
<line x1="2" x2="2249" y1="802.5" y2="802.5" stroke="#787b86" stroke-width="1" stroke-dasharray="5,6" stroke-dashoffset="0.9"/>
<line x1="2" x2="2249" y1="859.5" y2="859.5" stroke="#787b86" stroke-width="1" stroke-dasharray="5,6" stroke-dashoffset="0.9"/>
<line x1="2" x2="2249" y1="917.5" y2="917.5" stroke="#787b86" stroke-width="1" stroke-dasharray="5,6" stroke-dashoffset="0.9"/>
<polyline points="-2.5,813.5 3.2,800.2 8.9,788.3 14.6,781.3 20.2,778.1 25.9,798.3 31.6,785.0 37.3,798.3 42.9,794.3 48.6,821.3 54.3,836.6 60.0,845.9 65.7,839.7 71.3,849.3 77.0,838.2 82.7,831.2 88.4,840.9 94.0,857.5 99.7,861.3 105.4,864.1 111.1,844.8 116.7,843.8 122.4,829.0 128.1,836.4 133.8,834.4 139.5,822.8 145.1,821.9 150.8,845.5 156.5,826.2 162.2,842.8 167.8,831.8 173.5,836.7 179.2,847.1 184.9,867.7 190.6,873.5 196.2,877.1 201.9,892.1 207.6,890.4 213.3,888.2 218.9,899.6 224.6,900.7 230.3,897.9 236.0,905.8 241.7,909.6 247.3,916.8 253.0,923.4 258.7,903.9 264.4,916.1 270.0,919.3 275.7,923.1 281.4,899.9 287.1,908.5 292.8,899.3 298.4,896.5 304.1,879.8 309.8,868.6 315.5,884.6 321.1,867.4 326.8,851.2 332.5,898.4 338.2,878.5 343.9,894.5 349.5,903.8 355.2,908.8 360.9,917.1 366.6,922.0 372.2,919.3 377.9,899.8 383.6,898.6 389.3,908.0 395.0,917.1 400.6,925.2 406.3,900.8 412.0,903.0 417.7,880.5 423.3,882.6 429.0,874.8 434.7,890.6 440.4,887.7 446.1,887.2 451.7,867.0 457.4,872.0 463.1,875.5 468.8,880.3 474.4,887.7 480.1,893.5 485.8,883.0 491.5,879.0 497.2,884.6 502.8,909.3 508.5,907.6 514.2,887.1 519.9,892.4 525.5,893.2 531.2,894.7 536.9,884.8 542.6,882.7 548.3,890.4 553.9,900.2 559.6,901.6 565.3,920.4 571.0,901.2 576.6,874.3 582.3,884.6 588.0,890.6 593.7,893.8 599.4,905.0 605.0,910.2 610.7,881.5 616.4,882.6 622.1,881.0 627.7,887.5 633.4,846.8 639.1,846.1 644.8,849.7 650.5,847.4 656.1,828.9 661.8,831.7 667.5,849.1 673.2,855.6 678.8,855.6 684.5,866.9 690.2,887.4 695.9,860.0 701.6,855.1 707.2,859.8 712.9,875.5 718.6,880.5 724.3,863.9 729.9,855.6 735.6,838.6 741.3,832.8 747.0,835.2 752.7,846.8 758.3,853.2 764.0,833.9 769.7,847.5 775.4,845.6 781.0,833.7 786.7,843.1 792.4,865.8 798.1,873.2 803.8,846.3 809.4,823.2 815.1,800.3 820.8,802.0 826.5,795.5 832.1,798.3 837.8,789.5 843.5,798.6 849.2,808.7 854.9,805.0 860.5,799.6 866.2,797.0 871.9,817.0 877.6,823.9 883.2,833.9 888.9,844.5 894.6,845.4 900.3,849.7 905.9,838.4 911.6,833.0 917.3,841.0 923.0,844.6 928.7,829.7 934.3,804.4 940.0,822.5 945.7,831.6 951.4,823.0 957.0,826.7 962.7,793.2 968.4,780.1 974.1,784.3 979.8,801.5 985.4,790.7 991.1,807.8 996.8,803.5 1002.5,791.1 1008.1,810.5 1013.8,829.1 1019.5,821.1 1025.2,825.8 1030.9,819.3 1036.5,844.2 1042.2,838.0 1047.9,853.5 1053.6,843.7 1059.2,853.5 1064.9,837.1 1070.6,856.6 1076.3,860.9 1082.0,854.0 1087.6,886.5 1093.3,860.0 1099.0,861.3 1104.7,859.2 1110.3,861.5 1116.0,852.5 1121.7,847.9 1127.4,871.8 1133.1,850.1 1138.7,842.1 1144.4,840.1 1150.1,847.2 1155.8,851.9 1161.4,842.6 1167.1,846.3 1172.8,836.0 1178.5,845.8 1184.2,840.5 1189.8,837.3 1195.5,845.0 1201.2,841.5 1206.9,840.8 1212.5,832.6 1218.2,820.8 1223.9,828.0 1229.6,826.1 1235.3,842.7 1240.9,842.4 1246.6,839.7 1252.3,835.6 1258.0,826.7 1263.6,821.7 1269.3,814.5 1275.0,808.6 1280.7,806.5 1286.4,797.5 1292.0,795.3 1297.7,797.8 1303.4,811.8 1309.1,808.5 1314.7,829.9 1320.4,826.3 1326.1,829.2 1331.8,834.3 1337.5,838.4 1343.1,846.5 1348.8,865.4 1354.5,855.1 1360.2,865.8 1365.8,857.5 1371.5,840.2 1377.2,827.0 1382.9,824.1 1388.6,830.0 1394.2,833.3 1399.9,875.8 1405.6,883.8 1411.3,907.7 1416.9,904.4 1422.6,863.5 1428.3,866.6 1434.0,865.6 1439.7,849.1 1445.3,848.0 1451.0,853.9 1456.7,859.5 1462.4,846.6 1468.0,840.4 1473.7,854.4 1479.4,842.0 1485.1,853.5 1490.8,857.1 1496.4,855.1 1502.1,866.9 1507.8,841.3 1513.5,864.0 1519.1,846.5 1524.8,854.2 1530.5,857.3 1536.2,851.0 1541.9,846.2 1547.5,862.4 1553.2,857.3 1558.9,860.6 1564.6,844.8 1570.2,836.4 1575.9,850.6 1581.6,853.4 1587.3,844.4 1593.0,844.4 1598.6,839.0 1604.3,818.2 1610.0,834.6 1615.7,841.1 1621.3,852.3 1627.0,839.4 1632.7,837.0 1638.4,857.1 1644.1,873.3 1649.7,864.0 1655.4,858.3 1661.1,856.2 1666.8,858.1 1672.4,862.2 1678.1,854.1 1683.8,863.3 1689.5,877.6 1695.1,883.8 1700.8,897.5 1706.5,879.5 1712.2,890.3 1717.9,878.6 1723.5,867.5 1729.2,857.1 1734.9,866.3 1740.6,869.3 1746.2,879.0 1751.9,875.5 1757.6,872.6 1763.3,869.5 1769.0,864.2 1774.6,862.1 1780.3,878.2 1786.0,888.4 1791.7,894.7 1797.3,899.3 1803.0,908.7 1808.7,904.8 1814.4,879.1 1820.1,873.6 1825.7,873.3 1831.4,865.9 1837.1,862.3 1842.8,845.9 1848.4,851.7 1854.1,865.5 1859.8,867.4 1865.5,886.5 1871.2,885.7 1876.8,889.4 1882.5,885.7 1888.2,864.4 1893.9,853.1 1899.5,853.1 1905.2,850.2 1910.9,846.5 1916.6,839.6 1922.3,823.5 1927.9,836.7 1933.6,835.8 1939.3,838.8 1945.0,846.3 1950.6,818.1 1956.3,804.4 1962.0,805.7 1967.7,802.5 1973.4,805.1 1979.0,811.6 1984.7,822.4 1990.4,830.9 1996.1,812.5 2001.7,801.8 2007.4,809.3 2013.1,809.3 2018.8,813.8 2024.5,816.4 2030.1,835.8 2035.8,831.1 2041.5,837.7 2047.2,856.8 2052.8,851.7 2058.5,874.3 2064.2,877.1 2069.9,890.5 2075.6,898.3 2081.2,876.2 2086.9,885.4 2092.6,886.1 2098.3,903.7 2103.9,904.6 2109.6,873.9 2115.3,840.7 2121.0,856.7 2126.7,834.3 2132.3,814.3 2138.0,801.5 2143.7,780.1 2149.4,810.0 2155.0,807.1 2160.7,840.3 2166.4,854.9 2172.1,848.2 2177.8,852.9 2183.4,858.1 2189.1,848.6 2194.8,829.7 2200.5,835.7 2206.1,838.3" fill="none" stroke="#7e57c2" stroke-width="2" stroke-linejoin="round"/>
</g>
<g clip-path="url(#ca)">
<path d="M1.2,968.1 C3.4,967.6 9.9,966.4 14.5,965.0 C19.1,963.6 24.3,961.2 28.9,959.6 C33.5,958.0 37.8,955.1 42.2,955.3 C46.6,955.5 51.7,958.8 55.5,960.9 C59.3,963.0 61.9,965.4 65.1,968.1 C68.3,970.8 71.2,974.6 74.8,977.0 C78.4,979.4 83.2,980.9 86.8,982.6 C90.4,984.3 92.9,985.2 96.5,987.4 C100.1,989.6 104.5,993.9 108.5,995.8 C112.5,997.7 116.6,998.6 120.6,999.0 C124.6,999.4 128.7,998.1 132.7,998.2 C136.7,998.4 140.7,998.7 144.7,999.9 C148.7,1001.1 152.8,1004.1 156.8,1005.5 C160.8,1006.9 165.2,1007.6 168.8,1008.4 C172.4,1009.2 174.9,1008.7 178.5,1010.3 C182.1,1011.9 187.3,1016.3 190.5,1018.0 C193.7,1019.7 194.2,1020.0 197.8,1020.4 C201.4,1020.8 208.7,1020.5 212.3,1020.4 C215.9,1020.3 216.3,1020.6 219.5,1019.9 C222.7,1019.2 227.5,1017.8 231.5,1016.3 C235.5,1014.8 239.6,1012.9 243.6,1010.8 C247.6,1008.7 252.1,1005.6 255.7,1003.5 C259.3,1001.4 261.7,1000.5 265.3,998.2 C268.9,995.9 273.4,991.8 277.4,989.8 C281.4,987.8 285.8,987.2 289.4,986.2 C293.0,985.2 295.9,983.6 299.1,983.8 C302.3,984.0 305.5,985.6 308.7,987.4 C311.9,989.2 315.4,992.3 318.4,994.6 C321.4,996.9 323.2,1000.8 326.8,1001.4 C330.4,1002.0 335.9,999.6 340.1,998.2 C344.3,996.8 347.7,995.4 352.1,992.9 C356.5,990.4 362.2,985.8 366.6,983.3 C371.0,980.8 374.7,979.7 378.7,978.0 C382.7,976.3 386.9,974.8 390.7,972.9 C394.5,971.0 398.0,967.9 401.6,966.4 C405.2,964.9 408.6,963.9 412.4,964.0 C416.2,964.1 421.3,966.1 424.5,966.9 C427.7,967.7 428.1,968.2 431.7,968.8 C435.3,969.4 441.8,968.8 446.2,970.5 C450.6,972.2 454.3,976.5 458.3,978.9 C462.3,981.3 466.3,983.5 470.3,985.0 C474.3,986.5 478.0,987.0 482.4,988.1 C486.8,989.2 492.5,991.5 496.9,991.5 C501.3,991.5 503.3,988.8 508.9,988.1 C514.5,987.4 524.6,986.9 530.6,987.4 C536.6,987.9 540.2,990.3 545.1,991.0 C550.0,991.7 555.8,992.3 560.0,991.5 C564.2,990.7 566.5,986.0 570.1,986.2 C573.7,986.4 577.8,991.3 581.7,992.9 C585.7,994.5 590.0,995.5 593.8,995.8 C597.6,996.1 601.0,994.2 604.6,994.6 C608.2,995.0 612.1,996.7 615.5,998.2 C618.9,999.7 621.5,1001.3 625.1,1003.5 C628.7,1005.7 633.0,1009.2 637.2,1011.5 C641.4,1013.8 646.4,1016.4 650.4,1017.5 C654.4,1018.6 657.5,1017.5 661.3,1018.3 C665.1,1019.1 669.4,1021.0 673.4,1022.4 C677.4,1023.8 681.8,1025.8 685.4,1026.7 C689.0,1027.6 691.5,1026.7 695.1,1027.7 C698.7,1028.7 703.1,1031.7 707.1,1032.7 C711.1,1033.7 714.8,1032.8 719.2,1033.9 C723.6,1035.0 728.9,1038.2 733.7,1039.2 C738.5,1040.2 743.7,1039.5 748.1,1040.2 C752.5,1040.9 756.6,1042.8 760.2,1043.6 C763.8,1044.4 765.4,1045.1 769.8,1045.3 C774.2,1045.5 782.3,1044.7 786.7,1045.0 C791.1,1045.3 793.6,1046.5 796.4,1047.0 C799.2,1047.5 801.2,1048.2 803.6,1047.9 C806.0,1047.6 808.0,1047.1 810.8,1045.3 C813.6,1043.5 816.9,1040.2 820.5,1037.3 C824.1,1034.4 828.7,1031.0 832.5,1027.7 C836.3,1024.4 839.8,1020.0 843.4,1017.5 C847.0,1015.0 850.5,1014.5 854.3,1012.7 C858.1,1010.9 863.1,1008.0 866.3,1006.7 C869.5,1005.4 870.8,1005.0 873.6,1005.0 C876.4,1005.0 879.2,1005.6 883.2,1006.7 C887.2,1007.8 893.7,1010.1 897.7,1011.5 C901.7,1012.9 903.3,1013.9 907.3,1015.1 C911.3,1016.3 918.2,1018.3 921.8,1018.7 C925.4,1019.1 925.8,1019.2 929.0,1017.5 C932.2,1015.8 937.1,1010.8 941.1,1008.4 C945.1,1006.0 949.6,1005.1 953.2,1003.1 C956.8,1001.1 959.2,999.3 962.8,996.3 C966.4,993.3 970.5,988.5 974.9,985.0 C979.3,981.5 985.3,977.8 989.3,975.3 C993.3,972.8 995.8,972.2 999.0,970.0 C1002.2,967.8 1003.4,963.5 1008.6,962.1 C1013.8,960.7 1024.7,961.0 1030.3,961.6 C1035.9,962.2 1038.4,964.1 1042.4,965.7 C1046.4,967.3 1050.0,969.2 1054.4,971.2 C1058.8,973.2 1064.5,975.1 1068.9,977.7 C1073.3,980.3 1077.0,984.2 1081.0,986.7 C1085.0,989.2 1089.8,991.2 1093.0,992.9 C1096.2,994.6 1097.5,995.9 1100.3,997.0 C1103.1,998.1 1106.6,998.3 1109.9,999.4 C1113.2,1000.5 1116.5,1002.7 1120.0,1003.5 C1123.5,1004.3 1127.7,1004.7 1130.9,1004.3 C1134.1,1003.9 1135.9,1002.2 1139.3,1001.1 C1142.7,1000.0 1146.8,999.3 1151.4,997.8 C1156.0,996.3 1161.6,993.1 1167.0,992.2 C1172.4,991.3 1179.7,991.9 1183.9,992.2 C1188.1,992.5 1188.4,993.4 1192.4,994.1 C1196.4,994.8 1204.4,995.7 1208.0,996.6 C1211.6,997.5 1211.5,997.5 1214.1,999.4 C1216.7,1001.3 1220.5,1005.3 1223.7,1007.9 C1226.9,1010.5 1229.8,1013.0 1233.4,1015.1 C1237.0,1017.2 1241.4,1018.5 1245.4,1020.4 C1249.4,1022.3 1253.7,1024.8 1257.5,1026.7 C1261.3,1028.6 1264.7,1031.0 1268.3,1032.0 C1271.9,1033.0 1275.8,1032.7 1279.2,1032.5 C1282.6,1032.3 1285.6,1031.4 1288.8,1030.8 C1292.0,1030.2 1295.1,1029.2 1298.5,1028.9 C1301.9,1028.6 1305.7,1028.3 1309.3,1029.1 C1312.9,1029.9 1316.4,1032.2 1320.2,1033.9 C1324.0,1035.6 1328.7,1037.7 1332.3,1039.2 C1335.9,1040.7 1338.7,1042.6 1341.9,1042.9 C1345.1,1043.2 1348.3,1041.8 1351.5,1041.2 C1354.7,1040.6 1358.8,1039.5 1361.2,1039.2 C1363.6,1038.9 1363.6,1038.7 1366.0,1039.2 C1368.4,1039.7 1372.5,1041.4 1375.7,1042.1 C1378.9,1042.8 1382.1,1042.8 1385.3,1043.3 C1388.5,1043.8 1392.0,1045.0 1395.0,1044.8 C1398.0,1044.6 1399.8,1044.0 1403.4,1042.1 C1407.0,1040.2 1411.7,1034.5 1416.7,1033.2 C1421.7,1031.9 1429.2,1033.5 1433.6,1034.4 C1438.0,1035.3 1438.4,1037.0 1443.2,1038.8 C1448.0,1040.6 1456.9,1043.5 1462.5,1045.3 C1468.1,1047.1 1472.6,1048.2 1477.0,1049.4 C1481.4,1050.6 1485.0,1052.0 1489.0,1052.5 C1493.0,1053.0 1496.3,1052.4 1501.1,1052.7 C1505.9,1053.0 1513.2,1053.7 1518.0,1054.2 C1522.8,1054.7 1526.0,1055.4 1530.0,1055.6 C1534.0,1055.8 1537.3,1055.1 1542.1,1055.2 C1546.9,1055.3 1553.0,1056.8 1559.0,1056.4 C1565.0,1056.0 1571.9,1053.3 1578.3,1052.7 C1584.7,1052.1 1592.0,1054.4 1597.6,1053.0 C1603.2,1051.6 1606.4,1046.1 1612.0,1044.1 C1617.6,1042.1 1625.4,1041.4 1631.4,1041.2 C1637.4,1041.0 1643.0,1042.0 1648.2,1042.9 C1653.4,1043.8 1657.4,1045.1 1662.7,1046.5 C1668.0,1047.9 1674.7,1051.1 1680.0,1051.3 C1685.3,1051.5 1690.1,1049.5 1694.5,1047.7 C1698.9,1045.9 1702.1,1042.8 1706.5,1040.4 C1710.9,1038.0 1717.4,1034.3 1721.0,1033.2 C1724.6,1032.1 1724.8,1032.9 1728.2,1033.9 C1731.6,1034.9 1736.7,1038.4 1741.5,1039.2 C1746.3,1040.0 1753.0,1038.6 1757.2,1038.8 C1761.4,1039.0 1763.6,1039.7 1766.8,1040.4 C1770.0,1041.1 1773.3,1042.8 1776.5,1042.9 C1779.7,1043.0 1782.5,1042.2 1786.1,1041.2 C1789.7,1040.2 1794.2,1038.7 1798.2,1036.8 C1802.2,1034.9 1807.4,1031.1 1810.2,1030.1 C1813.0,1029.1 1812.7,1030.1 1815.1,1030.8 C1817.5,1031.5 1821.1,1032.9 1824.7,1034.4 C1828.3,1035.9 1832.8,1038.7 1836.8,1039.7 C1840.8,1040.7 1844.4,1039.6 1848.8,1040.2 C1853.2,1040.8 1857.7,1043.0 1863.3,1043.3 C1868.9,1043.6 1877.0,1041.5 1882.6,1042.1 C1888.2,1042.7 1892.7,1045.9 1897.1,1047.0 C1901.5,1048.1 1905.9,1048.6 1909.1,1048.9 C1912.3,1049.2 1912.8,1049.6 1916.4,1048.9 C1920.0,1048.2 1926.0,1045.4 1930.8,1044.5 C1935.6,1043.6 1941.7,1044.3 1945.3,1043.6 C1948.9,1042.9 1949.4,1042.2 1952.6,1040.4 C1955.8,1038.6 1961.0,1034.9 1964.6,1032.5 C1968.2,1030.1 1969.5,1028.3 1974.3,1026.0 C1979.1,1023.7 1988.8,1020.7 1993.6,1018.7 C1998.4,1016.7 2000.0,1015.4 2003.2,1013.9 C2006.4,1012.4 2009.6,1011.3 2012.8,1009.8 C2016.0,1008.3 2019.3,1006.2 2022.5,1005.0 C2025.7,1003.8 2028.9,1002.9 2032.1,1002.6 C2035.3,1002.4 2039.0,1002.8 2041.8,1003.5 C2044.6,1004.2 2045.8,1004.8 2049.0,1006.7 C2052.2,1008.6 2057.5,1013.0 2061.1,1015.1 C2064.7,1017.2 2067.9,1018.4 2070.7,1019.2 C2073.5,1020.0 2074.4,1018.6 2078.0,1019.9 C2081.6,1021.1 2088.1,1025.7 2092.5,1026.7 C2096.9,1027.8 2100.9,1026.1 2104.5,1026.2 C2108.1,1026.3 2110.6,1027.0 2114.2,1027.2 C2117.8,1027.4 2122.2,1028.3 2126.2,1027.2 C2130.2,1026.1 2135.1,1022.7 2138.3,1020.4 C2141.5,1018.1 2142.5,1016.2 2145.5,1013.2 C2148.5,1010.2 2153.8,1004.7 2156.4,1002.6 C2159.0,1000.5 2158.2,1000.7 2161.2,1000.7 C2164.2,1000.7 2169.9,1001.8 2174.5,1002.6 C2179.1,1003.4 2184.9,1005.3 2188.9,1005.5 C2192.9,1005.7 2195.6,1004.0 2198.6,1004.0 C2201.6,1004.0 2205.8,1005.2 2207.2,1005.5" fill="none" stroke="#f7525f" stroke-width="2" stroke-linejoin="round"/>
</g>
<g font-family="'Liberation Sans', Arial, sans-serif" font-size="13" fill="#131722" clip-path="url(#axm)">
<text x="2258.37" y="42.71" textLength="53.57" lengthAdjust="spacingAndGlyphs">1.22000</text>
<text x="2258.37" y="107.98" textLength="53.57" lengthAdjust="spacingAndGlyphs">1.20000</text>
<text x="2258.37" y="173.25" textLength="53.57" lengthAdjust="spacingAndGlyphs">1.18000</text>
<text x="2258.37" y="238.52" textLength="53.57" lengthAdjust="spacingAndGlyphs">1.16000</text>
<text x="2258.37" y="303.80" textLength="53.57" lengthAdjust="spacingAndGlyphs">1.14000</text>
<text x="2258.37" y="369.07" textLength="53.57" lengthAdjust="spacingAndGlyphs">1.12000</text>
<text x="2258.37" y="434.34" textLength="53.57" lengthAdjust="spacingAndGlyphs">1.10000</text>
<text x="2258.37" y="499.61" textLength="53.57" lengthAdjust="spacingAndGlyphs">1.08000</text>
<text x="2258.37" y="564.88" textLength="53.57" lengthAdjust="spacingAndGlyphs">1.06000</text>
<text x="2258.37" y="630.16" textLength="53.57" lengthAdjust="spacingAndGlyphs">1.04000</text>
<text x="2258.37" y="695.43" textLength="53.57" lengthAdjust="spacingAndGlyphs">1.02000</text>
<text x="2258.37" y="760.70" textLength="53.57" lengthAdjust="spacingAndGlyphs">1.00000</text>
</g>
<g font-family="'Liberation Sans', Arial, sans-serif" font-size="13" fill="#131722" clip-path="url(#axr)">
<text x="2257.86" y="778.60" textLength="37.09" lengthAdjust="spacingAndGlyphs">80.00</text>
<text x="2257.75" y="835.76" textLength="37.09" lengthAdjust="spacingAndGlyphs">60.00</text>
<text x="2258.16" y="892.92" textLength="37.09" lengthAdjust="spacingAndGlyphs">40.00</text>
</g>
<g font-family="'Liberation Sans', Arial, sans-serif" font-size="13" fill="#131722" clip-path="url(#axa)">
<text x="2257.75" y="947.10" textLength="37.09" lengthAdjust="spacingAndGlyphs">60.00</text>
<text x="2258.16" y="991.30" textLength="37.09" lengthAdjust="spacingAndGlyphs">40.00</text>
<text x="2257.75" y="1035.50" textLength="37.09" lengthAdjust="spacingAndGlyphs">20.00</text>
</g>
<g font-family="'Liberation Sans', Arial, sans-serif" font-size="13">
<path d="M2249,8.2 h66 a2,2 0 0 1 2,2 v14.6 a2,2 0 0 1 -2,2 h-66 z" fill="#b2b5be"/><text x="2258.37" y="21.80" textLength="53.57" lengthAdjust="spacingAndGlyphs" fill="#131722">1.22660</text>
<path d="M2249,67.6 h66 a2,2 0 0 1 2,2 v14.6 a2,2 0 0 1 -2,2 h-66 z" fill="#b2b5be"/><text x="2258.37" y="81.20" textLength="53.57" lengthAdjust="spacingAndGlyphs" fill="#131722">1.20821</text>
<path d="M2249,132.1 h66 a2,2 0 0 1 2,2 v14.6 a2,2 0 0 1 -2,2 h-66 z" fill="#e50000"/><text x="2258.37" y="145.70" textLength="53.57" lengthAdjust="spacingAndGlyphs" fill="#ffffff">1.18842</text>
<path d="M2249,171.3 h66 a2,2 0 0 1 2,2 v14.6 a2,2 0 0 1 -2,2 h-66 z" fill="#b2b5be"/><text x="2258.37" y="184.90" textLength="53.57" lengthAdjust="spacingAndGlyphs" fill="#131722">1.17657</text>
<path d="M2249,189.9 h66 a2,2 0 0 1 2,2 v14.6 a2,2 0 0 1 -2,2 h-66 z" fill="#2962ff"/><text x="2258.37" y="203.50" textLength="53.57" lengthAdjust="spacingAndGlyphs" fill="#ffffff">1.17390</text>
<path d="M2249,208.5 h66 a2,2 0 0 1 2,2 v14.6 a2,2 0 0 1 -2,2 h-66 z" fill="#f23645"/><text x="2258.37" y="222.10" textLength="53.57" lengthAdjust="spacingAndGlyphs" fill="#ffffff">1.16812</text>
<path d="M2249,227.1 h66 a2,2 0 0 1 2,2 v14.6 a2,2 0 0 1 -2,2 h-66 z" fill="#ff9800"/><text x="2258.37" y="240.70" textLength="53.57" lengthAdjust="spacingAndGlyphs" fill="#131722">1.16291</text>
<path d="M2249,245.7 h66 a2,2 0 0 1 2,2 v14.6 a2,2 0 0 1 -2,2 h-66 z" fill="#b2b5be"/><text x="2258.37" y="259.30" textLength="53.57" lengthAdjust="spacingAndGlyphs" fill="#131722">1.15784</text>
<path d="M2249,264.3 h66 a2,2 0 0 1 2,2 v14.6 a2,2 0 0 1 -2,2 h-66 z" fill="#b2b5be"/><text x="2258.37" y="277.90" textLength="53.57" lengthAdjust="spacingAndGlyphs" fill="#131722">1.14912</text>
<path d="M2249,282.9 h66 a2,2 0 0 1 2,2 v14.6 a2,2 0 0 1 -2,2 h-66 z" fill="#b2b5be"/><text x="2258.37" y="296.50" textLength="53.57" lengthAdjust="spacingAndGlyphs" fill="#131722">1.14688</text>
<path d="M2249,828.9 h50 a2,2 0 0 1 2,2 v14.5 a2,2 0 0 1 -2,2 h-50 z" fill="#7e57c2"/><text x="2257.91" y="842.45" textLength="37.09" lengthAdjust="spacingAndGlyphs" fill="#ffffff">57.42</text>
<path d="M2249,997.2 h50 a2,2 0 0 1 2,2 v14.5 a2,2 0 0 1 -2,2 h-50 z" fill="#f7525f"/><text x="2257.94" y="1010.75" textLength="37.09" lengthAdjust="spacingAndGlyphs" fill="#ffffff">31.62</text>
</g>
<g font-family="'Liberation Sans', Arial, sans-serif" font-size="13" fill="#131722">
<text x="54.01" y="1089.10" textLength="23.82" lengthAdjust="spacingAndGlyphs">Sep</text>
<text x="174.22" y="1089.10" textLength="20.83" lengthAdjust="spacingAndGlyphs">Oct</text>
<text x="303.57" y="1089.10" textLength="23.81" lengthAdjust="spacingAndGlyphs">Nov</text>
<text x="422.92" y="1089.10" textLength="23.81" lengthAdjust="spacingAndGlyphs">Dec</text>
<text x="542.35" y="1089.10" textLength="35.19" lengthAdjust="spacingAndGlyphs" font-weight="bold">2025</text>
<text x="678.10" y="1089.10" textLength="23.07" lengthAdjust="spacingAndGlyphs">Feb</text>
<text x="791.83" y="1089.10" textLength="23.06" lengthAdjust="spacingAndGlyphs">Mar</text>
<text x="912.68" y="1089.10" textLength="20.84" lengthAdjust="spacingAndGlyphs">Apr</text>
<text x="1034.72" y="1089.10" textLength="25.30" lengthAdjust="spacingAndGlyphs">May</text>
<text x="1162.54" y="1089.10" textLength="21.59" lengthAdjust="spacingAndGlyphs">Jun</text>
<text x="1283.68" y="1089.10" textLength="17.12" lengthAdjust="spacingAndGlyphs">Jul</text>
<text x="1411.51" y="1089.10" textLength="23.82" lengthAdjust="spacingAndGlyphs">Aug</text>
<text x="1530.06" y="1089.10" textLength="23.82" lengthAdjust="spacingAndGlyphs">Sep</text>
<text x="1656.22" y="1089.10" textLength="20.83" lengthAdjust="spacingAndGlyphs">Oct</text>
<text x="1785.77" y="1089.10" textLength="23.81" lengthAdjust="spacingAndGlyphs">Nov</text>
<text x="1898.62" y="1089.10" textLength="23.81" lengthAdjust="spacingAndGlyphs">Dec</text>
<text x="2024.15" y="1089.10" textLength="35.32" lengthAdjust="spacingAndGlyphs" font-weight="bold">2026</text>
<text x="2154.90" y="1089.10" textLength="23.07" lengthAdjust="spacingAndGlyphs">Feb</text>
</g>
<g font-family="'Liberation Sans', Arial, sans-serif" font-size="13" fill="#131722">
<text x="9.77" y="22.80" textLength="113.86" lengthAdjust="spacingAndGlyphs">EUR/USD Spot, 1D</text>
<text x="131.48" y="22.80" textLength="10.26" lengthAdjust="spacingAndGlyphs">O</text>
<text x="141.88" y="22.80" textLength="48.39" lengthAdjust="spacingAndGlyphs" fill="#e50000">1.18952</text>
<text x="197.30" y="22.80" textLength="9.70" lengthAdjust="spacingAndGlyphs">H</text>
<text x="207.30" y="22.80" textLength="47.37" lengthAdjust="spacingAndGlyphs" fill="#e50000">1.19273</text>
<text x="261.65" y="22.80" textLength="7.82" lengthAdjust="spacingAndGlyphs">L</text>
<text x="269.27" y="22.80" textLength="48.72" lengthAdjust="spacingAndGlyphs" fill="#e50000">1.18333</text>
<text x="325.49" y="22.80" textLength="10.03" lengthAdjust="spacingAndGlyphs">C</text>
<text x="335.28" y="22.80" textLength="48.50" lengthAdjust="spacingAndGlyphs" fill="#e50000">1.18842</text>
<text x="391.72" y="22.80" textLength="118.44" lengthAdjust="spacingAndGlyphs" fill="#e50000">−0.00110 (−0.09%)</text>
<text x="9.66" y="42.10" textLength="112.70" lengthAdjust="spacingAndGlyphs">MA (100, close, 0)</text>
<text x="129.92" y="42.10" textLength="46.63" lengthAdjust="spacingAndGlyphs" fill="#f23645">1.16812</text>
<text x="9.65" y="60.80" textLength="106.22" lengthAdjust="spacingAndGlyphs">MA (55, close, 0)</text>
<text x="123.79" y="60.80" textLength="47.72" lengthAdjust="spacingAndGlyphs" fill="#2962ff">1.17390</text>
<text x="9.64" y="79.70" textLength="114.43" lengthAdjust="spacingAndGlyphs">MA (200, close, 0)</text>
<text x="131.63" y="79.70" textLength="46.20" lengthAdjust="spacingAndGlyphs" fill="#ff9800">1.16291</text>
<text x="9.73" y="782.80" textLength="48.79" lengthAdjust="spacingAndGlyphs">RSI (14)</text>
<text x="66.66" y="782.80" textLength="33.92" lengthAdjust="spacingAndGlyphs" fill="#7e57c2">57.42</text>
<text x="10.77" y="965.00" textLength="76.14" lengthAdjust="spacingAndGlyphs">ADX (14, 14)</text>
<text x="95.09" y="965.00" textLength="33.48" lengthAdjust="spacingAndGlyphs" fill="#f7525f">31.62</text>
</g>
</svg>
</body></html>
